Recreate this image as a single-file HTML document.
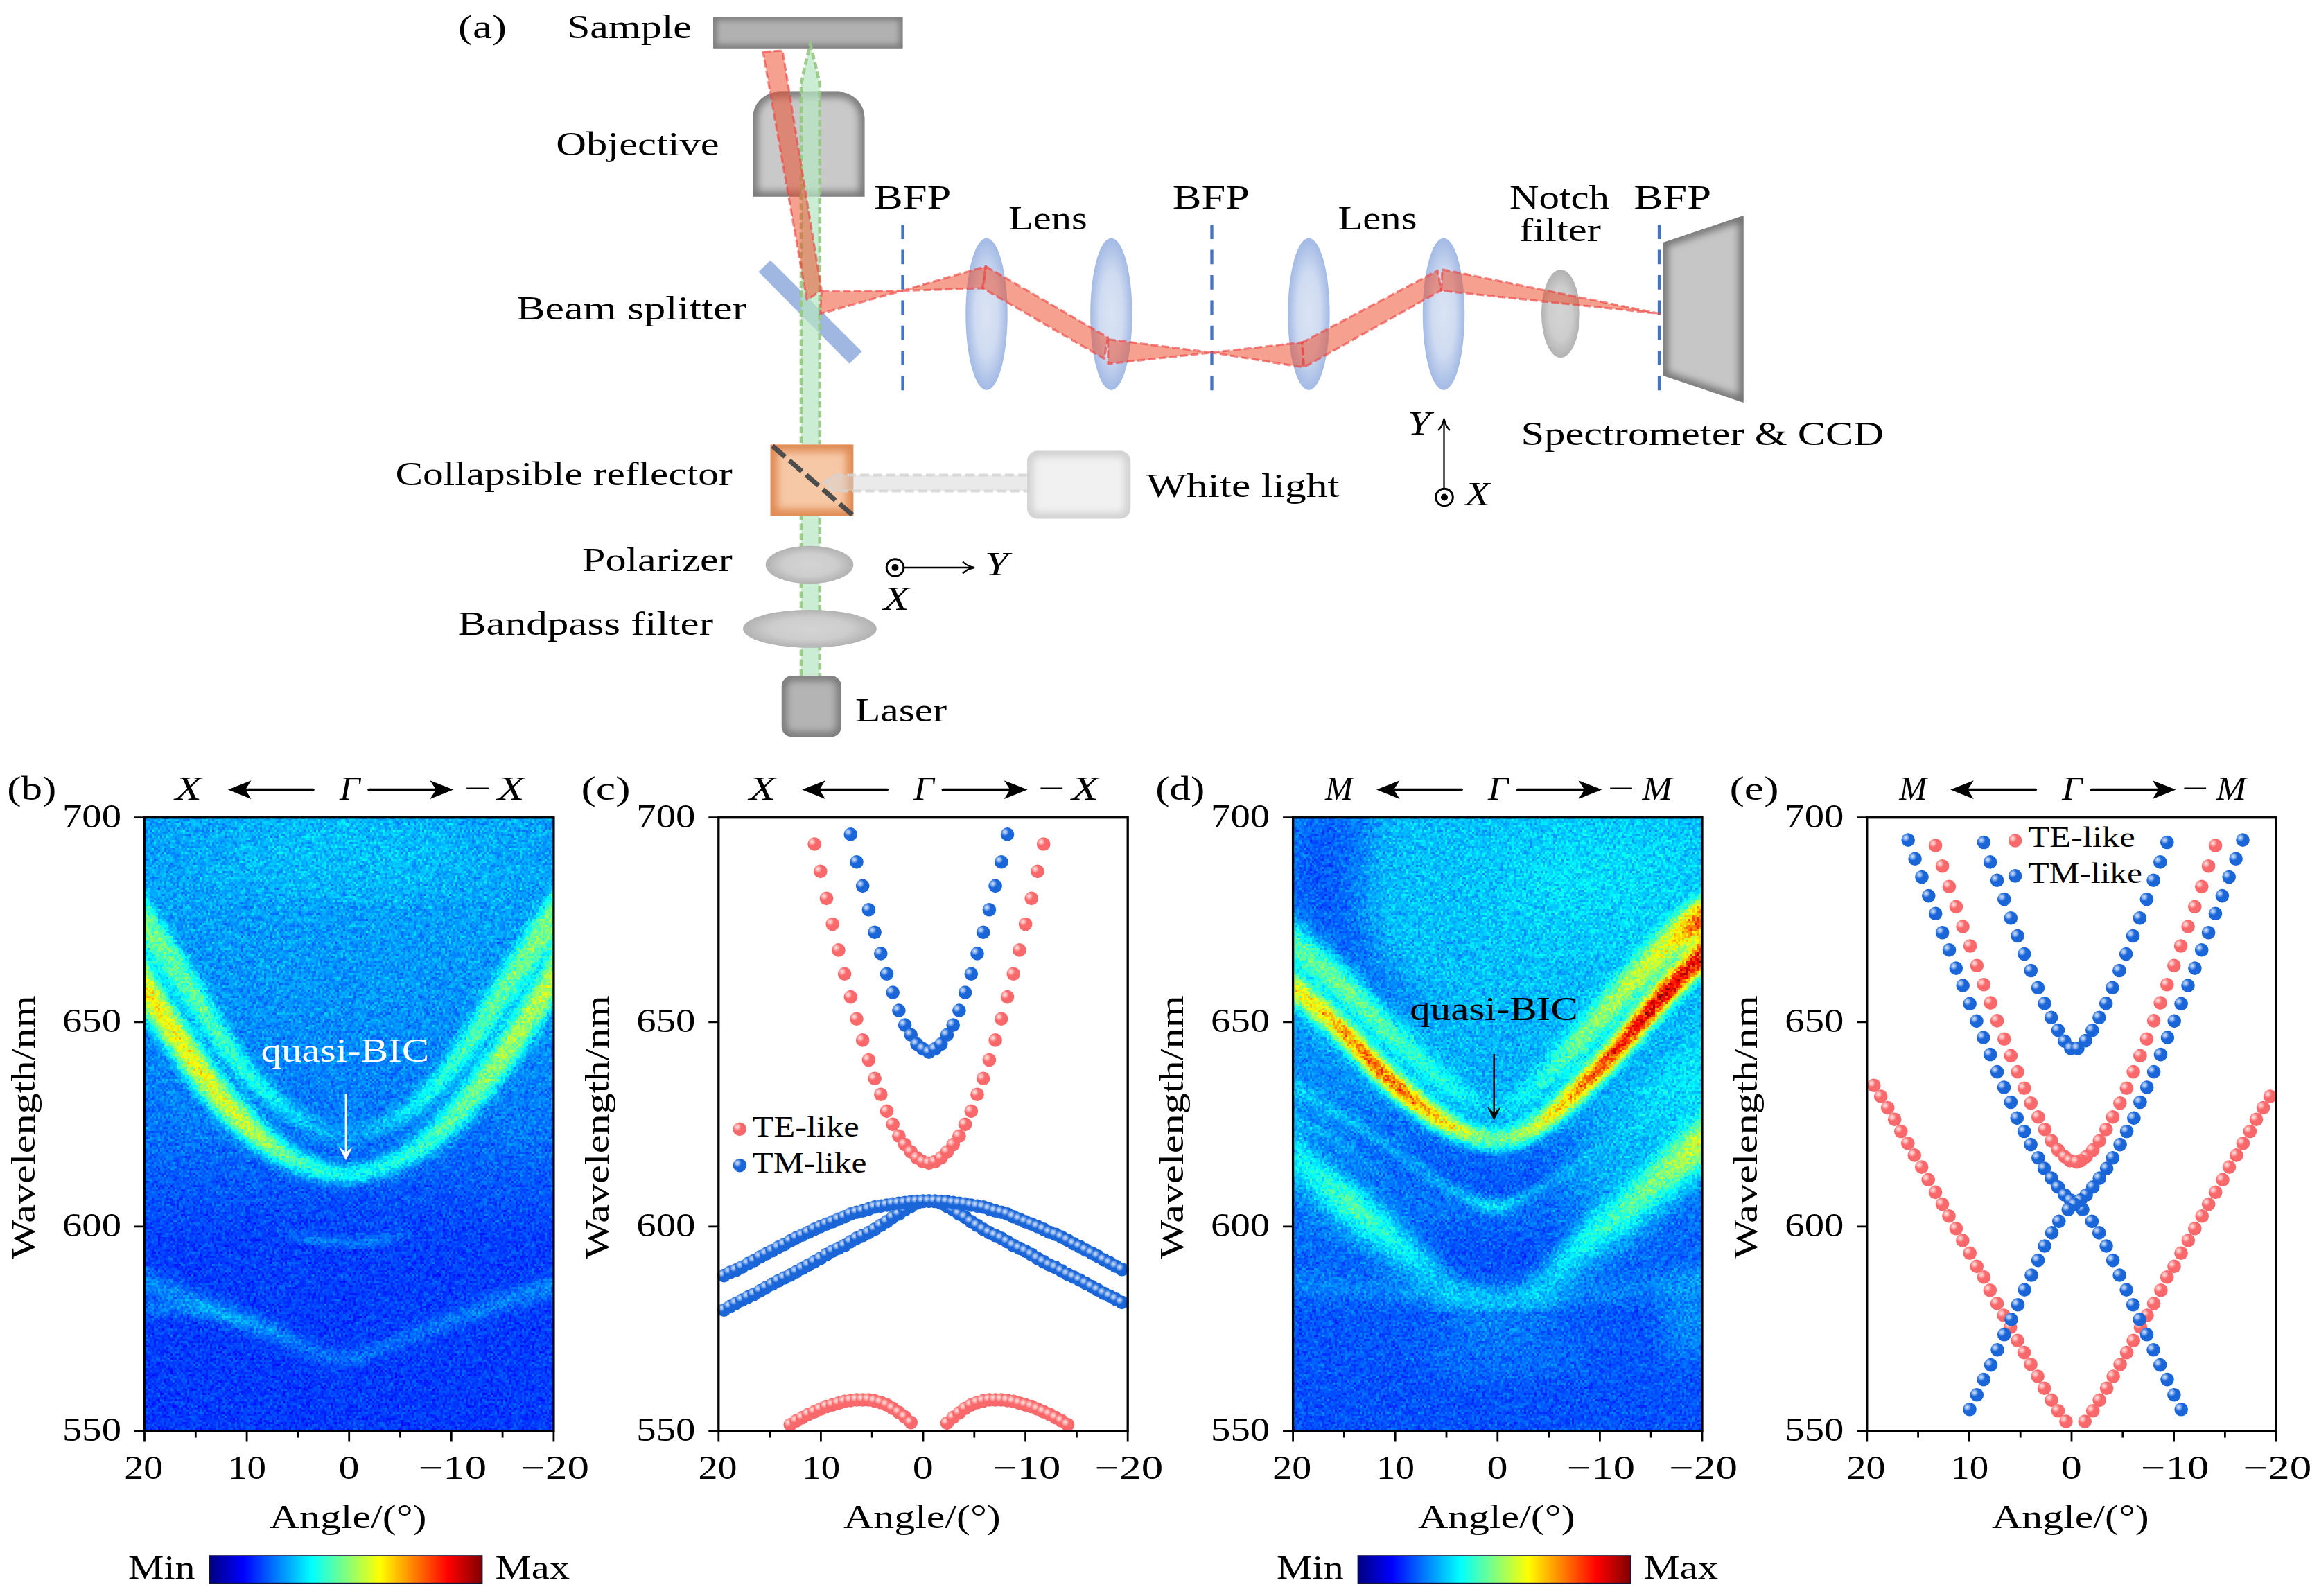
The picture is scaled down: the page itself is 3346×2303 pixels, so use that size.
<!DOCTYPE html>
<html lang="en"><head><meta charset="utf-8"><title>Figure</title>
<style>html,body{margin:0;padding:0;background:#fff}svg{display:block}text{font-family:"Liberation Serif",serif}</style></head><body>
<svg width="3346" height="2303" viewBox="0 0 3346 2303">
<rect width="3346" height="2303" fill="#fff"/>
<defs>
<filter id="bl4" x="-20%" y="-20%" width="140%" height="140%"><feGaussianBlur stdDeviation="4"/></filter>
<filter id="bl3" x="-20%" y="-20%" width="140%" height="140%"><feGaussianBlur stdDeviation="3"/></filter>
<filter id="bl6" x="-20%" y="-20%" width="140%" height="140%"><feGaussianBlur stdDeviation="6"/></filter>
<radialGradient id="lensg" cx="0.5" cy="0.5" r="0.5"><stop offset="0" stop-color="#dbe4f4"/><stop offset="0.55" stop-color="#cfdbf1"/><stop offset="1" stop-color="#a3bae5"/></radialGradient>
<radialGradient id="greyg" cx="0.5" cy="0.5" r="0.5"><stop offset="0" stop-color="#d4d4d4"/><stop offset="0.6" stop-color="#cdcdcd"/><stop offset="1" stop-color="#b2b2b2"/></radialGradient>
<clipPath id="cSample"><rect x="1029" y="24" width="273.5" height="45.7"/></clipPath>
<clipPath id="cObj"><path d="M1086 283.7V171a38 38 0 0 1 38-38.5h85.500a38 38 0 0 1 38 38.500V283.700Z"/></clipPath>
<clipPath id="cSpec"><path d="M2399.500 350L2515.700 311V581L2399.500 542Z"/></clipPath>
<clipPath id="cOr"><rect x="1111.600" y="641.400" width="119.700" height="103.300"/></clipPath>
<clipPath id="cWl"><rect x="1482" y="650.400" width="149.200" height="98" rx="15"/></clipPath>
<clipPath id="cLas"><rect x="1127.800" y="975.300" width="86.200" height="88" rx="15"/></clipPath>
</defs>
<rect x="1029" y="24" width="273.5" height="45.7" fill="#b1b1b1"/>
<g clip-path="url(#cSample)"><rect x="1029" y="24" width="273.5" height="45.7" fill="none" stroke="#787878" stroke-width="10" filter="url(#bl4)"/></g>
<path d="M1086 283.7V171a38 38 0 0 1 38-38.5h85.5a38 38 0 0 1 38 38.5V283.7Z" fill="#c9c9c9"/>
<g clip-path="url(#cObj)"><path d="M1086 283.7V171a38 38 0 0 1 38-38.5h85.5a38 38 0 0 1 38 38.5V283.7Z" fill="none" stroke="#727272" stroke-width="14" filter="url(#bl6)"/></g>
<path d="M1111.6 375.6L1094.4 392.3L1225.6 524.7L1243.5 507.2Z" fill="#8faadc" fill-opacity="0.85"/>
<path d="M1156 975V121.500Q1161.500 93 1169.100 64.500Q1176.700 93 1182.800 121.500V975" fill="#b5e6c3" fill-opacity="0.72" stroke="none"/>
<path d="M1156 975V121.500Q1161.500 93 1169.100 64.500Q1176.700 93 1182.800 121.500V975" fill="none" stroke="#97c784" stroke-opacity="0.92" stroke-width="4.6" stroke-dasharray="9.5 4.5"/>
<rect x="1111.6" y="641.4" width="119.7" height="103.3" fill="#f7c8a6"/>
<g clip-path="url(#cOr)"><rect x="1111.6" y="641.4" width="119.7" height="103.3" fill="none" stroke="#e08a52" stroke-width="20" filter="url(#bl6)"/></g>
<rect x="1482" y="650.4" width="149.2" height="98" rx="15" fill="#f1f1f1"/>
<g clip-path="url(#cWl)"><rect x="1482" y="650.4" width="149.2" height="98" rx="15" fill="none" stroke="#cfcfcf" stroke-width="16" filter="url(#bl6)"/></g>
<path d="M1482 685.5H1203L1189 697L1203 708.5H1482" fill="#d6d6d6" fill-opacity="0.5"/>
<path d="M1482 685.5H1203L1189 697L1203 708.5H1482" fill="none" stroke="#d4d4d4" stroke-opacity="0.85" stroke-width="3.8" stroke-dasharray="13 6"/>
<path d="M1114.500 643.500L1230 743" stroke="#4d4d4d" stroke-width="7" stroke-dasharray="24 8" fill="none"/>
<ellipse cx="1168" cy="815" rx="63.3" ry="27.2" fill="url(#greyg)"/>
<ellipse cx="1168.4" cy="907.3" rx="96.4" ry="27.4" fill="url(#greyg)"/>
<rect x="1127.8" y="975.3" width="86.2" height="88" rx="15" fill="#b4b4b4"/>
<g clip-path="url(#cLas)"><rect x="1127.8" y="975.3" width="86.2" height="88" rx="15" fill="none" stroke="#727272" stroke-width="13" filter="url(#bl6)"/></g>
<ellipse cx="1423.5" cy="453.3" rx="30.2" ry="109.6" fill="url(#lensg)"/>
<ellipse cx="1603.4" cy="453.3" rx="30.2" ry="109.6" fill="url(#lensg)"/>
<ellipse cx="1888.4" cy="453.3" rx="30.2" ry="109.6" fill="url(#lensg)"/>
<ellipse cx="2083" cy="453.3" rx="30.2" ry="109.6" fill="url(#lensg)"/>
<ellipse cx="2251.8" cy="452.6" rx="27.8" ry="63.6" fill="url(#greyg)"/>
<path d="M1302.5 324.200V563.400" stroke="#4472c4" stroke-width="4.300" stroke-dasharray="20.700 15.700" fill="none"/>
<path d="M1748.5 324.200V563.400" stroke="#4472c4" stroke-width="4.300" stroke-dasharray="20.700 15.700" fill="none"/>
<path d="M2394 324.200V563.400" stroke="#4472c4" stroke-width="4.300" stroke-dasharray="20.700 15.700" fill="none"/>
<path d="M2399.5 350L2515.7 311V581L2399.5 542Z" fill="#c6c6c6"/>
<g clip-path="url(#cSpec)"><path d="M2399.5 350L2515.7 311V581L2399.5 542Z" fill="none" stroke="#6c6c6c" stroke-width="13" filter="url(#bl6)"/></g>
<path d="M1101 75L1129 73L1185.3 419L1164.2 432.6Z" fill="#ee4a28" fill-opacity="0.52" stroke="#ee4040" stroke-opacity="0.62" stroke-width="3.200" stroke-dasharray="11 4.500" stroke-linejoin="round"/>
<path d="M1185.3 420.4L1301.500 419.500L1183.500 452.800Z" fill="#ee4a28" fill-opacity="0.52" stroke="#ee4040" stroke-opacity="0.62" stroke-width="3.200" stroke-dasharray="11 4.500" stroke-linejoin="round"/>
<path d="M1301.5 419.5L1422 384.400L1418.600 416Z" fill="#ee4a28" fill-opacity="0.52" stroke="#ee4040" stroke-opacity="0.62" stroke-width="3.200" stroke-dasharray="11 4.500" stroke-linejoin="round"/>
<path d="M1422.600 384.500L1598.500 487L1593.200 517.400L1417.400 415.600Z" fill="#ee4a28" fill-opacity="0.52" stroke="#ee4040" stroke-opacity="0.62" stroke-width="3.200" stroke-dasharray="11 4.500" stroke-linejoin="round"/>
<path d="M1598.800 489.600L1748.500 508.700L1598.800 524.900Z" fill="#ee4a28" fill-opacity="0.52" stroke="#ee4040" stroke-opacity="0.62" stroke-width="3.200" stroke-dasharray="11 4.500" stroke-linejoin="round"/>
<path d="M1748.500 508.700L1879.100 493.900L1880.800 530Z" fill="#ee4a28" fill-opacity="0.52" stroke="#ee4040" stroke-opacity="0.62" stroke-width="3.200" stroke-dasharray="11 4.500" stroke-linejoin="round"/>
<path d="M1878.400 494.500L2074.300 390.400L2079.500 419L1881.500 529.800Z" fill="#ee4a28" fill-opacity="0.52" stroke="#ee4040" stroke-opacity="0.62" stroke-width="3.200" stroke-dasharray="11 4.500" stroke-linejoin="round"/>
<path d="M2081 388.700L2394 452.500L2079.500 419.500Z" fill="#ee4a28" fill-opacity="0.52" stroke="#ee4040" stroke-opacity="0.62" stroke-width="3.200" stroke-dasharray="11 4.500" stroke-linejoin="round"/>
<path d="M2083.500 704V606" stroke="#000" stroke-width="2.300" fill="none"/>
<path d="M2075 621C2080 616 2082.500 610 2083.500 604C2084.500 610 2087 616 2092 621" stroke="#000" stroke-width="2.300" fill="none"/>
<circle cx="2084" cy="717.500" r="12.300" fill="none" stroke="#000" stroke-width="3"/><circle cx="2084" cy="717.500" r="5"/>
<circle cx="1291.500" cy="819" r="12.300" fill="none" stroke="#000" stroke-width="3"/><circle cx="1291.500" cy="819" r="5"/>
<path d="M1305 819H1404" stroke="#000" stroke-width="2.300" fill="none"/>
<path d="M1389 810.500C1394 815.500 1400 818 1406 819C1400 820 1394 822.500 1389 827.500" stroke="#000" stroke-width="2.300" fill="none"/>
<text x="661" y="55" font-size="49" textLength="70" lengthAdjust="spacingAndGlyphs">(a)</text>
<text x="818" y="55" font-size="49" textLength="180" lengthAdjust="spacingAndGlyphs">Sample</text>
<text x="802.3" y="223.5" font-size="49" textLength="235.4" lengthAdjust="spacingAndGlyphs">Objective</text>
<text x="745.3" y="460.5" font-size="49" textLength="332" lengthAdjust="spacingAndGlyphs">Beam splitter</text>
<text x="1261" y="300.7" font-size="49" textLength="111.3" lengthAdjust="spacingAndGlyphs">BFP</text>
<text x="1455" y="331" font-size="49" textLength="113.8" lengthAdjust="spacingAndGlyphs">Lens</text>
<text x="1691.7" y="300.7" font-size="49" textLength="111.3" lengthAdjust="spacingAndGlyphs">BFP</text>
<text x="1930.5" y="331" font-size="49" textLength="114" lengthAdjust="spacingAndGlyphs">Lens</text>
<text x="2178" y="300.7" font-size="49" textLength="144" lengthAdjust="spacingAndGlyphs">Notch</text>
<text x="2192" y="348" font-size="49" textLength="118" lengthAdjust="spacingAndGlyphs">filter</text>
<text x="2357.6" y="300.7" font-size="49" textLength="111.4" lengthAdjust="spacingAndGlyphs">BFP</text>
<text x="2194.6" y="641.5" font-size="49" textLength="523.4" lengthAdjust="spacingAndGlyphs">Spectrometer &amp; CCD</text>
<text x="1654" y="717.3" font-size="49" textLength="278.6" lengthAdjust="spacingAndGlyphs">White light</text>
<text x="570.5" y="700" font-size="49" textLength="486.2" lengthAdjust="spacingAndGlyphs">Collapsible reflector</text>
<text x="840" y="823.5" font-size="49" textLength="216.7" lengthAdjust="spacingAndGlyphs">Polarizer</text>
<text x="660.8" y="915.6" font-size="49" textLength="368.2" lengthAdjust="spacingAndGlyphs">Bandpass filter</text>
<text x="1234" y="1041" font-size="49" textLength="132" lengthAdjust="spacingAndGlyphs">Laser</text>
<text x="2031" y="627" font-size="49" textLength="33" lengthAdjust="spacingAndGlyphs" font-style="italic">Y</text>
<text x="2114" y="728.5" font-size="49" textLength="36" lengthAdjust="spacingAndGlyphs" font-style="italic">X</text>
<text x="1421" y="830.4" font-size="49" textLength="34" lengthAdjust="spacingAndGlyphs" font-style="italic">Y</text>
<text x="1274.5" y="880" font-size="49" textLength="37.4" lengthAdjust="spacingAndGlyphs" font-style="italic">X</text>
<defs>
<linearGradient id="jetbar" x1="0" x2="1" y1="0" y2="0">
<stop offset="0" stop-color="#000080"/><stop offset="0.125" stop-color="#0000ff"/><stop offset="0.25" stop-color="#0080ff"/>
<stop offset="0.375" stop-color="#00ffff"/><stop offset="0.5" stop-color="#80ff80"/><stop offset="0.625" stop-color="#ffff00"/>
<stop offset="0.75" stop-color="#ff8000"/><stop offset="0.875" stop-color="#ff0000"/><stop offset="1" stop-color="#800000"/>
</linearGradient>
<radialGradient id="sr" cx="0.32" cy="0.33" r="0.30"><stop offset="0" stop-color="#fde4e4"/><stop offset="0.45" stop-color="#fcb4b4"/><stop offset="1" stop-color="#f9686a"/></radialGradient>
<radialGradient id="sb" cx="0.32" cy="0.33" r="0.30"><stop offset="0" stop-color="#d6e4fa"/><stop offset="0.45" stop-color="#8fb5ee"/><stop offset="1" stop-color="#1a66d8"/></radialGradient>
<circle id="R" r="9.800" fill="url(#sr)"/>
<circle id="B" r="9.800" fill="url(#sb)"/>
</defs>
<defs>
<filter id="jet" filterUnits="userSpaceOnUse" x="0" y="1170" width="3346" height="903" color-interpolation-filters="sRGB">
<feTurbulence type="fractalNoise" baseFrequency="0.55" numOctaves="1" seed="11" result="t"/>
<feColorMatrix in="t" type="matrix" values="1 0 0 0 0  1 0 0 0 0  1 0 0 0 0  0 0 0 0 1" result="n"/>
<feComposite in="SourceGraphic" in2="n" operator="arithmetic" k1="0.5" k2="0.75" k3="0.11" k4="-0.055" result="s"/>
<feFlood x="1" y="1171" width="1" height="1" flood-color="#000" result="dot"/>
<feOffset in="dot" dx="0" dy="0" x="0" y="1170" width="3" height="3" result="cell"/>
<feTile in="cell" result="grid"/>
<feComposite in="s" in2="grid" operator="in" result="samp"/>
<feMorphology in="samp" operator="dilate" radius="1" result="pix"/>
<feComponentTransfer in="pix">
<feFuncR type="table" tableValues="0 0 0 0 0.5 1 1 1 0.5"/>
<feFuncG type="table" tableValues="0 0 0.5 1 1 1 0.5 0 0"/>
<feFuncB type="table" tableValues="0.5 1 1 1 0.5 0 0 0 0"/>
<feFuncA type="linear" slope="0" intercept="1"/>
</feComponentTransfer>
</filter>
<filter id="hb5" x="-10%" y="-10%" width="120%" height="120%" color-interpolation-filters="sRGB"><feGaussianBlur stdDeviation="5"/></filter>
<filter id="hb6" x="-10%" y="-10%" width="120%" height="120%" color-interpolation-filters="sRGB"><feGaussianBlur stdDeviation="6"/></filter>
<filter id="hb7" x="-10%" y="-10%" width="120%" height="120%" color-interpolation-filters="sRGB"><feGaussianBlur stdDeviation="7"/></filter>
<filter id="hb9" x="-10%" y="-10%" width="120%" height="120%" color-interpolation-filters="sRGB"><feGaussianBlur stdDeviation="9"/></filter>
<filter id="hb8" x="-10%" y="-10%" width="120%" height="120%" color-interpolation-filters="sRGB"><feGaussianBlur stdDeviation="8"/></filter>
<filter id="hb10" x="-10%" y="-10%" width="120%" height="120%" color-interpolation-filters="sRGB"><feGaussianBlur stdDeviation="10"/></filter>
<filter id="hb12" x="-10%" y="-10%" width="120%" height="120%" color-interpolation-filters="sRGB"><feGaussianBlur stdDeviation="12"/></filter>
<filter id="hb16" x="-15%" y="-15%" width="130%" height="130%" color-interpolation-filters="sRGB"><feGaussianBlur stdDeviation="16"/></filter>
<filter id="hb25" x="-20%" y="-20%" width="140%" height="140%" color-interpolation-filters="sRGB"><feGaussianBlur stdDeviation="25"/></filter>
<filter id="hb50" x="-30%" y="-30%" width="160%" height="160%" color-interpolation-filters="sRGB"><feGaussianBlur stdDeviation="50"/></filter>
</defs>
<defs><linearGradient id="hg1" x1="0" x2="0" y1="0" y2="1"><stop offset="0.000" stop-color="#494949"/><stop offset="0.100" stop-color="#494949"/><stop offset="0.300" stop-color="#454545"/><stop offset="0.500" stop-color="#3e3e3e"/><stop offset="0.600" stop-color="#363636"/><stop offset="0.680" stop-color="#303030"/><stop offset="1.000" stop-color="#2e2e2e"/></linearGradient><linearGradient id="hg2" gradientUnits="userSpaceOnUse" x1="163.5" x2="843.5" y1="0" y2="0"><stop offset="0.066" stop-color="#fff" stop-opacity="0.078"/><stop offset="0.199" stop-color="#fff" stop-opacity="0.075"/><stop offset="0.324" stop-color="#fff" stop-opacity="0.069"/><stop offset="0.412" stop-color="#fff" stop-opacity="0.071"/><stop offset="0.500" stop-color="#fff" stop-opacity="0.073"/><stop offset="0.581" stop-color="#fff" stop-opacity="0.065"/><stop offset="0.713" stop-color="#fff" stop-opacity="0.062"/><stop offset="0.838" stop-color="#fff" stop-opacity="0.068"/><stop offset="0.934" stop-color="#fff" stop-opacity="0.072"/></linearGradient><linearGradient id="hg3" gradientUnits="userSpaceOnUse" x1="163.5" x2="413.5" y1="0" y2="0"><stop offset="0.180" stop-color="#fff" stop-opacity="0.068"/><stop offset="0.660" stop-color="#fff" stop-opacity="0.067"/><stop offset="1.000" stop-color="#fff" stop-opacity="0.033"/></linearGradient><linearGradient id="hg4" gradientUnits="userSpaceOnUse" x1="400.5" x2="600.5" y1="0" y2="0"><stop offset="0.000" stop-color="#fff" stop-opacity="0.015"/><stop offset="0.240" stop-color="#fff" stop-opacity="0.072"/><stop offset="0.515" stop-color="#fff" stop-opacity="0.065"/><stop offset="0.765" stop-color="#fff" stop-opacity="0.072"/><stop offset="1.000" stop-color="#fff" stop-opacity="0.015"/></linearGradient><linearGradient id="hg5" gradientUnits="userSpaceOnUse" x1="165.6" x2="842.5" y1="0" y2="0"><stop offset="0.066" stop-color="#fff" stop-opacity="0.215"/><stop offset="0.121" stop-color="#fff" stop-opacity="0.199"/><stop offset="0.179" stop-color="#fff" stop-opacity="0.205"/><stop offset="0.238" stop-color="#fff" stop-opacity="0.188"/><stop offset="0.296" stop-color="#fff" stop-opacity="0.171"/><stop offset="0.354" stop-color="#fff" stop-opacity="0.143"/><stop offset="0.393" stop-color="#fff" stop-opacity="0.115"/><stop offset="0.432" stop-color="#fff" stop-opacity="0.077"/><stop offset="0.492" stop-color="#fff" stop-opacity="0.041"/><stop offset="0.553" stop-color="#fff" stop-opacity="0.076"/><stop offset="0.588" stop-color="#fff" stop-opacity="0.111"/><stop offset="0.626" stop-color="#fff" stop-opacity="0.141"/><stop offset="0.685" stop-color="#fff" stop-opacity="0.172"/><stop offset="0.743" stop-color="#fff" stop-opacity="0.187"/><stop offset="0.801" stop-color="#fff" stop-opacity="0.203"/><stop offset="0.860" stop-color="#fff" stop-opacity="0.216"/><stop offset="0.934" stop-color="#fff" stop-opacity="0.233"/></linearGradient><linearGradient id="hg6" gradientUnits="userSpaceOnUse" x1="165.6" x2="842.5" y1="0" y2="0"><stop offset="0.066" stop-color="#fff" stop-opacity="0.376"/><stop offset="0.121" stop-color="#fff" stop-opacity="0.362"/><stop offset="0.179" stop-color="#fff" stop-opacity="0.361"/><stop offset="0.238" stop-color="#fff" stop-opacity="0.345"/><stop offset="0.296" stop-color="#fff" stop-opacity="0.340"/><stop offset="0.354" stop-color="#fff" stop-opacity="0.299"/><stop offset="0.412" stop-color="#fff" stop-opacity="0.272"/><stop offset="0.451" stop-color="#fff" stop-opacity="0.269"/><stop offset="0.492" stop-color="#fff" stop-opacity="0.253"/><stop offset="0.549" stop-color="#fff" stop-opacity="0.245"/><stop offset="0.607" stop-color="#fff" stop-opacity="0.219"/><stop offset="0.665" stop-color="#fff" stop-opacity="0.213"/><stop offset="0.724" stop-color="#fff" stop-opacity="0.230"/><stop offset="0.782" stop-color="#fff" stop-opacity="0.260"/><stop offset="0.840" stop-color="#fff" stop-opacity="0.285"/><stop offset="0.879" stop-color="#fff" stop-opacity="0.295"/><stop offset="0.934" stop-color="#fff" stop-opacity="0.304"/></linearGradient><clipPath id="hcb"><rect x="208.5" y="1179.7" width="590.4" height="885.3"/></clipPath></defs>
<g clip-path="url(#hcb)"><g filter="url(#jet)">
<rect x="188.5" y="1174.7" width="630.4" height="895.3" fill="url(#hg1)"/>
<ellipse cx="508.5" cy="1229.7" rx="200" ry="45" fill="#fff" fill-opacity="0.045" filter="url(#hb50)" style="mix-blend-mode:plus-lighter"/>
<path d="M163.5 1816.3L174.3 1820.6L185.1 1824.8L195.9 1829L206.7 1833.3L217.5 1837.6L228.3 1841.9L239.1 1846.3L249.8 1850.7L260.6 1855.1L271.4 1859.6L282.2 1864.1L293 1868.7L303.8 1873.3L314.6 1878L325.4 1882.8L336.2 1887.6L347 1892.5L357.8 1897.3L368.6 1902.2L379.4 1907.1L390.2 1912L401 1916.9L411.8 1921.9L422.5 1926.7L433.3 1931.6L444.1 1936.3L454.9 1940.9L465.7 1945.1L476.5 1948.6L487.3 1951L498.1 1952.1L508.9 1951.5L519.7 1949.1L530.5 1945.5L541.3 1941L552.1 1936L562.9 1931L573.7 1926.1L584.5 1921.4L595.2 1916.7L606 1912.2L616.8 1907.7L627.6 1903.3L638.4 1899L649.2 1894.7L660 1890.5L670.8 1886.2L681.6 1882.1L692.4 1877.9L703.2 1873.9L714 1869.9L724.8 1866L735.6 1862.3L746.4 1858.6L757.2 1855.1L767.9 1851.6L778.7 1848.2L789.5 1844.8L800.3 1841.5L811.1 1838.2L821.9 1835L832.7 1831.8L843.5 1828.6L843.5 1856.6L832.7 1859.8L821.9 1863L811.1 1866.2L800.3 1869.5L789.5 1872.6L778.7 1875.7L767.9 1878.8L757.2 1881.9L746.4 1885.1L735.6 1888.4L724.8 1891.7L714 1895.1L703.2 1898.6L692.4 1902.1L681.6 1905.7L670.8 1909.3L660 1913L649.2 1916.8L638.4 1920.5L627.6 1924.4L616.8 1928.3L606 1932.2L595.2 1936.3L584.5 1940.4L573.7 1944.7L562.9 1949.2L552.1 1953.7L541.3 1958.2L530.5 1962.2L519.7 1965.4L508.9 1967.5L498.1 1968.1L487.3 1967.2L476.5 1965.1L465.7 1962L454.9 1958.3L444.1 1954.2L433.3 1950.1L422.5 1946L411.8 1941.9L401 1937.8L390.2 1933.6L379.4 1929.4L368.6 1925.1L357.8 1920.8L347 1916.4L336.2 1912.1L325.4 1907.8L314.6 1903.4L303.8 1899.1L293 1894.8L282.2 1890.6L271.4 1886.3L260.6 1882.2L249.8 1878L239.1 1873.8L228.3 1869.6L217.5 1865.5L206.7 1861.3L195.9 1857L185.1 1852.8L174.3 1848.6L163.5 1844.3Z" fill="url(#hg2)" filter="url(#hb8)" style="mix-blend-mode:plus-lighter"/>
<path d="M163.5 1874.6L167.5 1874.8L171.4 1875L175.4 1875.2L179.4 1875.4L183.3 1875.7L187.3 1875.9L191.3 1876.1L195.2 1876.3L199.2 1876.5L203.2 1876.7L207.2 1876.9L211.1 1877.2L215.1 1877.4L219.1 1877.6L223 1877.9L227 1878.1L231 1878.4L234.9 1878.7L238.9 1878.9L242.9 1879.2L246.8 1879.5L250.8 1879.8L254.8 1880.1L258.7 1880.5L262.7 1880.8L266.7 1881.2L270.6 1881.6L274.6 1882L278.6 1882.4L282.5 1882.8L286.5 1883.3L290.5 1883.8L294.5 1884.3L298.4 1884.9L302.4 1885.4L306.4 1886L310.3 1886.7L314.3 1887.3L318.3 1888L322.2 1888.8L326.2 1889.5L330.2 1890.3L334.1 1891.2L338.1 1892.1L342.1 1893L346 1893.9L350 1894.9L354 1895.9L357.9 1896.9L361.9 1897.9L365.9 1899L369.8 1900.1L373.8 1901.2L377.8 1902.3L381.8 1903.5L385.7 1904.6L389.7 1905.8L393.7 1907L397.6 1908.2L401.6 1909.4L405.6 1910.6L409.5 1911.8L413.5 1913L413.5 1927L409.5 1925.9L405.6 1924.8L401.6 1923.7L397.6 1922.6L393.7 1921.5L389.7 1920.4L385.7 1919.3L381.8 1918.3L377.8 1917.2L373.8 1916.2L369.8 1915.2L365.9 1914.2L361.9 1913.2L357.9 1912.3L354 1911.3L350 1910.4L346 1909.5L342.1 1908.7L338.1 1907.9L334.1 1907.1L330.2 1906.3L326.2 1905.6L322.2 1904.9L318.3 1904.2L314.3 1903.6L310.3 1903L306.4 1902.5L302.4 1901.9L298.4 1901.4L294.5 1901L290.5 1900.5L286.5 1900.1L282.5 1899.7L278.6 1899.3L274.6 1899L270.6 1898.6L266.7 1898.3L262.7 1898L258.7 1897.7L254.8 1897.5L250.8 1897.2L246.8 1897L242.9 1896.7L238.9 1896.5L234.9 1896.3L231 1896.1L227 1895.9L223 1895.7L219.1 1895.5L215.1 1895.3L211.1 1895.1L207.2 1894.9L203.2 1894.7L199.2 1894.5L195.2 1894.3L191.3 1894.1L187.3 1893.9L183.3 1893.7L179.4 1893.4L175.4 1893.2L171.4 1893L167.5 1892.8L163.5 1892.6Z" fill="url(#hg3)" filter="url(#hb8)" style="mix-blend-mode:plus-lighter"/>
<path d="M400.5 1772L403.7 1772.7L406.8 1773.4L410 1774.1L413.2 1774.8L416.4 1775.5L419.5 1776.2L422.7 1776.9L425.9 1777.6L429.1 1778.2L432.2 1778.9L435.4 1779.5L438.6 1780.2L441.8 1780.8L444.9 1781.4L448.1 1781.9L451.3 1782.5L454.5 1783L457.6 1783.5L460.8 1783.9L464 1784.4L467.2 1784.7L470.3 1785.1L473.5 1785.4L476.7 1785.7L479.9 1786L483 1786.2L486.2 1786.4L489.4 1786.6L492.6 1786.7L495.7 1786.9L498.9 1786.9L502.1 1787L505.3 1787L508.4 1787L511.6 1787L514.8 1786.9L518 1786.8L521.1 1786.6L524.3 1786.5L527.5 1786.3L530.7 1786L533.8 1785.7L537 1785.4L540.2 1785L543.4 1784.6L546.5 1784.2L549.7 1783.7L552.9 1783.1L556.1 1782.5L559.2 1781.9L562.4 1781.3L565.6 1780.6L568.8 1779.9L571.9 1779.2L575.1 1778.4L578.3 1777.7L581.5 1776.9L584.6 1776.1L587.8 1775.3L591 1774.5L594.2 1773.6L597.3 1772.8L600.5 1772L600.5 1782L597.3 1783L594.2 1784L591 1785.1L587.8 1786.1L584.6 1787.1L581.5 1788L578.3 1789L575.1 1789.9L571.9 1790.8L568.8 1791.6L565.6 1792.4L562.4 1793.2L559.2 1793.9L556.1 1794.5L552.9 1795.1L549.7 1795.7L546.5 1796.2L543.4 1796.6L540.2 1797L537 1797.4L533.8 1797.7L530.7 1798L527.5 1798.3L524.3 1798.5L521.1 1798.6L518 1798.8L514.8 1798.9L511.6 1799L508.4 1799L505.3 1799L502.1 1799L498.9 1798.9L495.7 1798.9L492.6 1798.7L489.4 1798.6L486.2 1798.4L483 1798.2L479.9 1798L476.7 1797.7L473.5 1797.4L470.3 1797.1L467.2 1796.7L464 1796.4L460.8 1795.9L457.6 1795.5L454.5 1795L451.3 1794.5L448.1 1793.9L444.9 1793.3L441.8 1792.7L438.6 1792L435.4 1791.3L432.2 1790.6L429.1 1789.8L425.9 1789L422.7 1788.2L419.5 1787.3L416.4 1786.5L413.2 1785.6L410 1784.7L406.8 1783.8L403.7 1782.9L400.5 1782Z" fill="url(#hg4)" filter="url(#hb5)" style="mix-blend-mode:plus-lighter"/>
<path d="M165.6 1239.7L176.3 1254.8L187.1 1269.8L197.8 1284.8L208.6 1299.9L219.3 1314.9L230.1 1330.1L240.8 1345.5L251.6 1361.4L262.3 1378.2L273 1395.7L283.8 1413.7L294.5 1431.8L305.3 1450.3L316 1468.5L326.8 1486L337.5 1502.5L348.3 1518.1L359 1532.7L369.7 1546.1L380.5 1558.4L391.2 1569.6L402 1579.7L412.7 1588.8L423.5 1597L434.2 1604.3L445 1611.1L455.7 1617.2L466.4 1622.3L477.2 1626.1L487.9 1628.4L498.7 1629L509.4 1627.9L520.2 1625.3L530.9 1621.8L541.7 1617.6L552.4 1613L563.1 1608L573.9 1601.9L584.6 1594.5L595.4 1585.7L606.1 1575.5L616.9 1563.8L627.6 1551L638.4 1537.1L649.1 1522.2L659.8 1506.5L670.6 1490.1L681.3 1473L692.1 1455.5L702.8 1437.8L713.6 1420.3L724.3 1402.7L735.1 1385.3L745.8 1368.5L756.5 1352.3L767.3 1336.4L778 1320.6L788.8 1304.9L799.5 1289.3L810.3 1273.6L821 1258L831.8 1242.4L842.5 1226.7L842.5 1289.7L831.8 1305.4L821 1321L810.3 1336.6L799.5 1352.3L788.8 1367.9L778 1383.6L767.3 1399.4L756.5 1415.3L745.8 1431.5L735.1 1447.4L724.3 1463.1L713.6 1478.5L702.8 1493.7L692.1 1508.2L681.3 1522.2L670.6 1535.7L659.8 1548.8L649.1 1561.1L638.4 1572.8L627.6 1583.7L616.9 1593.7L606.1 1602.7L595.4 1610.7L584.6 1617.7L573.9 1623.6L563.1 1629L552.4 1634L541.7 1638.6L530.9 1642.8L520.2 1646.3L509.4 1648.9L498.7 1650L487.9 1649.4L477.2 1647.1L466.4 1643.3L455.7 1638.2L445 1632.1L434.2 1625.3L423.5 1618.4L412.7 1611.6L402 1604.3L391.2 1596.3L380.5 1587.6L369.7 1578L359 1567.6L348.3 1556.3L337.5 1544.1L326.8 1530.9L316 1516.8L305.3 1502.2L294.5 1487L283.8 1471.3L273 1455.6L262.3 1440L251.6 1424.3L240.8 1408.5L230.1 1393.1L219.3 1377.9L208.6 1362.9L197.8 1347.8L187.1 1332.8L176.3 1317.8L165.6 1302.7Z" fill="url(#hg5)" filter="url(#hb8)" style="mix-blend-mode:plus-lighter"/>
<path d="M165.6 1325.7L176.3 1342.1L187.1 1358.5L197.8 1374.9L208.6 1391.3L219.3 1408.1L230.1 1424.9L240.8 1441.6L251.6 1458.3L262.3 1474.8L273 1490.9L283.8 1506.8L294.5 1522.3L305.3 1537.5L316 1552.1L326.8 1566L337.5 1579L348.3 1591.4L359 1603.3L369.7 1614.6L380.5 1625.6L391.2 1635.8L402 1645.1L412.7 1653.1L423.5 1660L434.2 1666L445 1671.4L455.7 1676.4L466.4 1680.8L477.2 1684.1L487.9 1686.3L498.7 1687.1L509.4 1686.4L520.2 1684.5L530.9 1681.7L541.7 1678.3L552.4 1674L563.1 1668.8L573.9 1662.7L584.6 1655.6L595.4 1647.3L606.1 1638.2L616.9 1628.3L627.6 1617.7L638.4 1606.3L649.1 1594.2L659.8 1581.3L670.6 1567.6L681.3 1553.4L692.1 1538.9L702.8 1524.3L713.6 1509.4L724.3 1494.2L735.1 1478.6L745.8 1462.3L756.5 1445.4L767.3 1428L778 1410L788.8 1391.8L799.5 1373.5L810.3 1355.5L821 1337.5L831.8 1319.5L842.5 1301.4L842.5 1368.6L831.8 1386.7L821 1404.7L810.3 1422.7L799.5 1440.7L788.8 1458.4L778 1475.9L767.3 1493L756.5 1509.4L745.8 1525.2L735.1 1540.3L724.3 1554.6L713.6 1568.3L702.8 1581.6L692.1 1594.4L681.3 1606.9L670.6 1618.8L659.8 1629.9L649.1 1640.2L638.4 1649.3L627.6 1657.5L616.9 1665L606.1 1671.7L595.4 1677.6L584.6 1682.8L573.9 1687.3L563.1 1691L552.4 1694.1L541.7 1696.9L530.9 1699.6L520.2 1701.8L509.4 1703.4L498.7 1703.9L487.9 1703.4L477.2 1701.8L466.4 1699.5L455.7 1696.8L445 1693.7L434.2 1690.4L423.5 1686.6L412.7 1682.2L402 1676.8L391.2 1670.4L380.5 1663.3L369.7 1655.5L359 1647.3L348.3 1638.6L337.5 1629.3L326.8 1619.1L316 1607.9L305.3 1595.9L294.5 1582.8L283.8 1568.7L273 1553.7L262.3 1538.2L251.6 1522.4L240.8 1506.5L230.1 1490.6L219.3 1474.6L208.6 1458.5L197.8 1442.1L187.1 1425.7L176.3 1409.3L165.6 1392.9Z" fill="url(#hg6)" filter="url(#hb9)" style="mix-blend-mode:plus-lighter"/>
</g></g>
<defs><linearGradient id="hg7" x1="0" x2="0" y1="0" y2="1"><stop offset="0.000" stop-color="#505050"/><stop offset="0.250" stop-color="#505050"/><stop offset="0.450" stop-color="#4b4b4b"/><stop offset="0.550" stop-color="#404040"/><stop offset="0.800" stop-color="#363636"/><stop offset="1.000" stop-color="#343434"/></linearGradient><linearGradient id="hg8" gradientUnits="userSpaceOnUse" x1="1820.6" x2="2500.6" y1="0" y2="0"><stop offset="0.066" stop-color="#fff" stop-opacity="0.051"/><stop offset="0.287" stop-color="#fff" stop-opacity="0.059"/><stop offset="0.500" stop-color="#fff" stop-opacity="0.067"/><stop offset="0.713" stop-color="#fff" stop-opacity="0.059"/><stop offset="0.934" stop-color="#fff" stop-opacity="0.051"/></linearGradient><linearGradient id="hg9" gradientUnits="userSpaceOnUse" x1="1820.9" x2="2500.4" y1="0" y2="0"><stop offset="0.066" stop-color="#fff" stop-opacity="0.101"/><stop offset="0.126" stop-color="#fff" stop-opacity="0.148"/><stop offset="0.199" stop-color="#fff" stop-opacity="0.206"/><stop offset="0.273" stop-color="#fff" stop-opacity="0.151"/><stop offset="0.346" stop-color="#fff" stop-opacity="0.111"/><stop offset="0.419" stop-color="#fff" stop-opacity="0.078"/><stop offset="0.492" stop-color="#fff" stop-opacity="0.056"/><stop offset="0.541" stop-color="#fff" stop-opacity="0.063"/><stop offset="0.590" stop-color="#fff" stop-opacity="0.094"/><stop offset="0.663" stop-color="#fff" stop-opacity="0.146"/><stop offset="0.761" stop-color="#fff" stop-opacity="0.183"/><stop offset="0.859" stop-color="#fff" stop-opacity="0.234"/><stop offset="0.934" stop-color="#fff" stop-opacity="0.291"/></linearGradient><linearGradient id="hg10" gradientUnits="userSpaceOnUse" x1="1820.9" x2="2500.4" y1="0" y2="0"><stop offset="0.066" stop-color="#fff" stop-opacity="0.048"/><stop offset="0.126" stop-color="#fff" stop-opacity="0.071"/><stop offset="0.199" stop-color="#fff" stop-opacity="0.096"/><stop offset="0.273" stop-color="#fff" stop-opacity="0.069"/><stop offset="0.346" stop-color="#fff" stop-opacity="0.050"/><stop offset="0.419" stop-color="#fff" stop-opacity="0.032"/><stop offset="0.492" stop-color="#fff" stop-opacity="0.021"/><stop offset="0.541" stop-color="#fff" stop-opacity="0.024"/><stop offset="0.590" stop-color="#fff" stop-opacity="0.039"/><stop offset="0.663" stop-color="#fff" stop-opacity="0.069"/><stop offset="0.761" stop-color="#fff" stop-opacity="0.088"/><stop offset="0.859" stop-color="#fff" stop-opacity="0.116"/><stop offset="0.934" stop-color="#fff" stop-opacity="0.143"/></linearGradient><linearGradient id="hg11" gradientUnits="userSpaceOnUse" x1="1820.9" x2="2305" y1="0" y2="0"><stop offset="0.093" stop-color="#fff" stop-opacity="0.080"/><stop offset="0.254" stop-color="#fff" stop-opacity="0.074"/><stop offset="0.364" stop-color="#fff" stop-opacity="0.076"/><stop offset="0.520" stop-color="#fff" stop-opacity="0.081"/><stop offset="0.623" stop-color="#fff" stop-opacity="0.104"/><stop offset="0.691" stop-color="#fff" stop-opacity="0.162"/><stop offset="0.760" stop-color="#fff" stop-opacity="0.103"/><stop offset="0.863" stop-color="#fff" stop-opacity="0.054"/><stop offset="1.000" stop-color="#fff" stop-opacity="0.021"/></linearGradient><linearGradient id="hg12" gradientUnits="userSpaceOnUse" x1="1820.9" x2="2000" y1="0" y2="0"><stop offset="0.251" stop-color="#fff" stop-opacity="0.051"/><stop offset="0.665" stop-color="#fff" stop-opacity="0.044"/><stop offset="1.000" stop-color="#fff" stop-opacity="0.018"/></linearGradient><linearGradient id="hg13" gradientUnits="userSpaceOnUse" x1="1822.6" x2="2499.4" y1="0" y2="0"><stop offset="0.066" stop-color="#fff" stop-opacity="0.172"/><stop offset="0.121" stop-color="#fff" stop-opacity="0.183"/><stop offset="0.179" stop-color="#fff" stop-opacity="0.207"/><stop offset="0.238" stop-color="#fff" stop-opacity="0.193"/><stop offset="0.296" stop-color="#fff" stop-opacity="0.161"/><stop offset="0.354" stop-color="#fff" stop-opacity="0.133"/><stop offset="0.413" stop-color="#fff" stop-opacity="0.100"/><stop offset="0.451" stop-color="#fff" stop-opacity="0.078"/><stop offset="0.492" stop-color="#fff" stop-opacity="0.063"/><stop offset="0.549" stop-color="#fff" stop-opacity="0.090"/><stop offset="0.607" stop-color="#fff" stop-opacity="0.145"/><stop offset="0.665" stop-color="#fff" stop-opacity="0.196"/><stop offset="0.724" stop-color="#fff" stop-opacity="0.237"/><stop offset="0.782" stop-color="#fff" stop-opacity="0.262"/><stop offset="0.840" stop-color="#fff" stop-opacity="0.294"/><stop offset="0.879" stop-color="#fff" stop-opacity="0.340"/><stop offset="0.934" stop-color="#fff" stop-opacity="0.496"/></linearGradient><linearGradient id="hg14" gradientUnits="userSpaceOnUse" x1="1822.6" x2="2499.4" y1="0" y2="0"><stop offset="0.066" stop-color="#fff" stop-opacity="0.328"/><stop offset="0.121" stop-color="#fff" stop-opacity="0.359"/><stop offset="0.179" stop-color="#fff" stop-opacity="0.470"/><stop offset="0.238" stop-color="#fff" stop-opacity="0.533"/><stop offset="0.296" stop-color="#fff" stop-opacity="0.516"/><stop offset="0.354" stop-color="#fff" stop-opacity="0.450"/><stop offset="0.413" stop-color="#fff" stop-opacity="0.370"/><stop offset="0.451" stop-color="#fff" stop-opacity="0.298"/><stop offset="0.492" stop-color="#fff" stop-opacity="0.222"/><stop offset="0.549" stop-color="#fff" stop-opacity="0.285"/><stop offset="0.607" stop-color="#fff" stop-opacity="0.374"/><stop offset="0.665" stop-color="#fff" stop-opacity="0.477"/><stop offset="0.724" stop-color="#fff" stop-opacity="0.557"/><stop offset="0.782" stop-color="#fff" stop-opacity="0.622"/><stop offset="0.840" stop-color="#fff" stop-opacity="0.649"/><stop offset="0.879" stop-color="#fff" stop-opacity="0.618"/><stop offset="0.934" stop-color="#fff" stop-opacity="0.588"/></linearGradient><clipPath id="hcd"><rect x="1865.6" y="1179.7" width="590.4" height="885.3"/></clipPath></defs>
<g clip-path="url(#hcd)"><g filter="url(#jet)">
<rect x="1845.6" y="1174.7" width="630.4" height="895.3" fill="url(#hg7)"/>
<path d="M1845 1165L1985 1165L1962 1266L1966 1337L2001 1407L2054 1460L2010 1472L1946 1402L1868 1332L1845 1322Z" fill="#000" fill-opacity="0.310" filter="url(#hb25)"/>
<ellipse cx="2305.6" cy="1269.7" rx="150" ry="70" fill="#fff" fill-opacity="0.035" filter="url(#hb50)" style="mix-blend-mode:plus-lighter"/>
<path d="M1845.6 1460L1985.6 1570L2155.6 1668L2285.6 1640L2285.6 1720L2155.6 1745L1985.6 1680L1845.6 1560Z" fill="#000" fill-opacity="0.100" filter="url(#hb16)"/>
<path d="M2030 1770L2280 1770L2230 1845L2080 1845Z" fill="#000" fill-opacity="0.070" filter="url(#hb10)"/>
<ellipse cx="2170" cy="1950" rx="120" ry="35" fill="#fff" fill-opacity="0.030" filter="url(#hb25)" style="mix-blend-mode:plus-lighter"/>
<ellipse cx="2440" cy="1900" rx="40" ry="60" fill="#fff" fill-opacity="0.060" filter="url(#hb25)" style="mix-blend-mode:plus-lighter"/>
<path d="M1820.6 1838.2L1831.4 1839.1L1842.2 1840L1853 1840.9L1863.8 1841.8L1874.6 1842.8L1885.4 1843.7L1896.2 1844.6L1906.9 1845.5L1917.7 1846.5L1928.5 1847.4L1939.3 1848.4L1950.1 1849.4L1960.9 1850.4L1971.7 1851.5L1982.5 1852.5L1993.3 1853.6L2004.1 1854.8L2014.9 1855.9L2025.7 1857.1L2036.5 1858.3L2047.3 1859.6L2058.1 1860.8L2068.9 1861.9L2079.6 1863.1L2090.4 1864.1L2101.2 1865.1L2112 1865.9L2122.8 1866.7L2133.6 1867.3L2144.4 1867.7L2155.2 1867.9L2166 1868L2176.8 1867.9L2187.6 1867.5L2198.4 1867L2209.2 1866.4L2220 1865.6L2230.8 1864.7L2241.6 1863.6L2252.3 1862.5L2263.1 1861.3L2273.9 1860L2284.7 1858.7L2295.5 1857.3L2306.3 1855.9L2317.1 1854.5L2327.9 1853.1L2338.7 1851.7L2349.5 1850.3L2360.3 1848.8L2371.1 1847.4L2381.9 1845.9L2392.7 1844.5L2403.5 1843L2414.3 1841.6L2425 1840.1L2435.8 1838.7L2446.6 1837.2L2457.4 1835.8L2468.2 1834.3L2479 1832.8L2489.8 1831.4L2500.6 1829.9L2500.6 1849.9L2489.8 1851.4L2479 1852.8L2468.2 1854.3L2457.4 1855.8L2446.6 1857.2L2435.8 1858.7L2425 1860.1L2414.3 1861.6L2403.5 1863L2392.7 1864.5L2381.9 1865.9L2371.1 1867.4L2360.3 1868.8L2349.5 1870.3L2338.7 1871.7L2327.9 1873.1L2317.1 1874.5L2306.3 1875.9L2295.5 1877.3L2284.7 1878.7L2273.9 1880L2263.1 1881.3L2252.3 1882.5L2241.6 1883.6L2230.8 1884.7L2220 1885.6L2209.2 1886.4L2198.4 1887L2187.6 1887.5L2176.8 1887.9L2166 1888L2155.2 1887.9L2144.4 1887.7L2133.6 1887.3L2122.8 1886.7L2112 1885.9L2101.2 1885.1L2090.4 1884.1L2079.6 1883.1L2068.9 1881.9L2058.1 1880.8L2047.3 1879.6L2036.5 1878.3L2025.7 1877.1L2014.9 1875.9L2004.1 1874.8L1993.3 1873.6L1982.5 1872.5L1971.7 1871.5L1960.9 1870.4L1950.1 1869.4L1939.3 1868.4L1928.5 1867.4L1917.7 1866.5L1906.9 1865.5L1896.2 1864.6L1885.4 1863.7L1874.6 1862.8L1863.8 1861.8L1853 1860.9L1842.2 1860L1831.4 1859.1L1820.6 1858.2Z" fill="url(#hg8)" filter="url(#hb12)" style="mix-blend-mode:plus-lighter"/>
<path d="M1820.9 1590.4L1831.7 1601.4L1842.5 1612.5L1853.3 1623.6L1864 1634.7L1874.8 1645.4L1885.6 1655.8L1896.4 1666L1907.2 1675.9L1918 1685.2L1928.8 1693.9L1939.5 1702.3L1950.3 1710.5L1961.1 1718.8L1971.9 1727.3L1982.7 1736.2L1993.5 1745.3L2004.3 1754.6L2015 1764.1L2025.8 1773.8L2036.6 1783.5L2047.4 1793.2L2058.2 1802.8L2069 1812.2L2079.8 1821.2L2090.5 1829.7L2101.3 1837.2L2112.1 1843.8L2122.9 1849.3L2133.7 1853.7L2144.5 1856.6L2155.3 1857.8L2166 1857.4L2176.8 1855.8L2187.6 1853.1L2198.4 1849.1L2209.2 1843.1L2220 1835.1L2230.8 1824.8L2241.5 1812.5L2252.3 1799.2L2263.1 1786L2273.9 1773.8L2284.7 1763.1L2295.5 1753.7L2306.3 1745L2317 1736.8L2327.8 1728.6L2338.6 1720L2349.4 1710.8L2360.2 1701L2371 1690.9L2381.8 1680.6L2392.5 1670.3L2403.3 1660.4L2414.1 1650.7L2424.9 1641.4L2435.7 1632.3L2446.5 1623.4L2457.3 1614.5L2468 1605.6L2478.8 1596.7L2489.6 1587.8L2500.4 1578.9L2500.4 1632.9L2489.6 1641.8L2478.8 1650.7L2468 1659.6L2457.3 1668.5L2446.5 1677.4L2435.7 1686.3L2424.9 1695.4L2414.1 1704.7L2403.3 1714.4L2392.5 1724.2L2381.8 1734.1L2371 1744L2360.2 1753.6L2349.4 1762.7L2338.6 1771.3L2327.8 1779.3L2317 1786.7L2306.3 1794.2L2295.5 1801.9L2284.7 1810.4L2273.9 1819.9L2263.1 1830.8L2252.3 1842.3L2241.5 1853.7L2230.8 1864.1L2220 1872.5L2209.2 1878.4L2198.4 1882.3L2187.6 1885.5L2176.8 1888.2L2166 1889.8L2155.3 1890.2L2144.5 1889.4L2133.7 1887.7L2122.9 1884.8L2112.1 1880.8L2101.3 1875.5L2090.5 1869.2L2079.8 1862.1L2069 1854.3L2058.2 1845.8L2047.4 1837L2036.6 1827.9L2025.8 1818.7L2015 1809.6L2004.3 1800.6L1993.5 1792L1982.7 1783.7L1971.9 1775.5L1961.1 1767.3L1950.3 1759.1L1939.5 1750.9L1928.8 1742.5L1918 1733.8L1907.2 1724.5L1896.4 1714.4L1885.6 1703.5L1874.8 1692.1L1864 1680.6L1853.3 1669.5L1842.5 1658.4L1831.7 1647.3L1820.9 1636.3Z" fill="url(#hg9)" filter="url(#hb12)" style="mix-blend-mode:plus-lighter"/>
<path d="M1820.9 1623.3L1831.7 1634.4L1842.5 1645.5L1853.3 1656.6L1864 1667.7L1874.8 1678.8L1885.6 1689.7L1896.4 1700.2L1907.2 1710.2L1918 1719.5L1928.8 1728.2L1939.5 1736.6L1950.3 1744.8L1961.1 1753.1L1971.9 1761.4L1982.7 1769.9L1993.5 1778.7L2004.3 1787.6L2015 1796.9L2025.8 1806.3L2036.6 1815.7L2047.4 1825.1L2058.2 1834.3L2069 1843.2L2079.8 1851.7L2090.5 1859.4L2101.3 1866.4L2112.1 1872.3L2122.9 1877.1L2133.7 1880.7L2144.5 1883L2155.3 1884L2166 1883.6L2176.8 1882L2187.6 1879.3L2198.4 1875.7L2209.2 1870.7L2220 1863.8L2230.8 1854.4L2241.5 1843.1L2252.3 1830.8L2263.1 1818.4L2273.9 1806.9L2284.7 1796.8L2295.5 1787.8L2306.3 1779.6L2317 1771.7L2327.8 1763.9L2338.6 1755.7L2349.4 1746.8L2360.2 1737.3L2371 1727.4L2381.8 1717.4L2392.5 1707.3L2403.3 1697.4L2414.1 1687.7L2424.9 1678.4L2435.7 1669.3L2446.5 1660.4L2457.3 1651.5L2468 1642.6L2478.8 1633.7L2489.6 1624.8L2500.4 1615.9L2500.4 1659.9L2489.6 1668.8L2478.8 1677.7L2468 1686.6L2457.3 1695.5L2446.5 1704.4L2435.7 1713.3L2424.9 1722.4L2414.1 1731.7L2403.3 1741.4L2392.5 1751.3L2381.8 1761.4L2371 1771.4L2360.2 1781.3L2349.4 1790.8L2338.6 1799.7L2327.8 1807.9L2317 1815.7L2306.3 1823.6L2295.5 1831.8L2284.7 1840.8L2273.9 1850.9L2263.1 1862.4L2252.3 1874.8L2241.5 1887.1L2230.8 1898.4L2220 1907.8L2209.2 1914.7L2198.4 1919.7L2187.6 1923.3L2176.8 1926L2166 1927.6L2155.3 1928L2144.5 1927L2133.7 1924.7L2122.9 1921.1L2112.1 1916.3L2101.3 1910.4L2090.5 1903.4L2079.8 1895.7L2069 1887.2L2058.2 1878.3L2047.4 1869.1L2036.6 1859.7L2025.8 1850.3L2015 1840.9L2004.3 1831.6L1993.5 1822.7L1982.7 1813.9L1971.9 1805.4L1961.1 1797.1L1950.3 1788.8L1939.5 1780.6L1928.8 1772.2L1918 1763.5L1907.2 1754.2L1896.4 1744.2L1885.6 1733.7L1874.8 1722.8L1864 1711.7L1853.3 1700.6L1842.5 1689.5L1831.7 1678.4L1820.9 1667.3Z" fill="url(#hg10)" filter="url(#hb16)" style="mix-blend-mode:plus-lighter"/>
<path d="M1820.9 1533.5L1828.6 1538L1836.3 1542.6L1844 1547.1L1851.6 1551.6L1859.3 1556.1L1867 1560.7L1874.7 1565.2L1882.4 1569.7L1890.1 1574.3L1897.7 1578.8L1905.4 1583.4L1913.1 1588L1920.8 1592.7L1928.5 1597.4L1936.2 1602.1L1943.8 1606.9L1951.5 1611.8L1959.2 1616.7L1966.9 1621.7L1974.6 1626.7L1982.3 1631.9L1990 1637.1L1997.6 1642.4L2005.3 1647.9L2013 1653.3L2020.7 1658.9L2028.4 1664.4L2036.1 1669.9L2043.7 1675.4L2051.4 1680.8L2059.1 1686.1L2066.8 1691.3L2074.5 1696.3L2082.2 1701.1L2089.8 1705.7L2097.5 1710.2L2105.2 1714.4L2112.9 1718.4L2120.6 1722.2L2128.3 1725.6L2135.9 1728.4L2143.6 1730.5L2151.3 1731.7L2159 1732L2166.7 1731.4L2174.4 1729.9L2182.1 1727.6L2189.7 1724.6L2197.4 1721.1L2205.1 1717.3L2212.8 1713.2L2220.5 1708.9L2228.2 1704.4L2235.8 1699.7L2243.5 1694.8L2251.2 1689.8L2258.9 1684.6L2266.6 1679.3L2274.3 1674L2281.9 1668.5L2289.6 1663.1L2297.3 1657.5L2305 1652L2305 1668L2297.3 1673.5L2289.6 1679.1L2281.9 1684.5L2274.3 1690L2266.6 1695.3L2258.9 1700.6L2251.2 1705.8L2243.5 1710.8L2235.8 1715.7L2228.2 1720.4L2220.5 1724.9L2212.8 1729.2L2205.1 1733.3L2197.4 1737.1L2189.7 1740.6L2182.1 1743.8L2174.4 1746.7L2166.7 1748.9L2159 1750L2151.3 1749.6L2143.6 1747.9L2135.9 1745.2L2128.3 1741.8L2120.6 1738.2L2112.9 1734.4L2105.2 1730.4L2097.5 1726.2L2089.8 1721.7L2082.2 1717.1L2074.5 1712.3L2066.8 1707.3L2059.1 1702.1L2051.4 1696.8L2043.7 1691.4L2036.1 1685.9L2028.4 1680.4L2020.7 1674.9L2013 1669.3L2005.3 1663.9L1997.6 1658.4L1990 1653.1L1982.3 1647.9L1974.6 1642.7L1966.9 1637.7L1959.2 1632.7L1951.5 1627.8L1943.8 1622.9L1936.2 1618.1L1928.5 1613.4L1920.8 1608.7L1913.1 1604L1905.4 1599.4L1897.7 1594.8L1890.1 1590.3L1882.4 1585.7L1874.7 1581.2L1867 1576.7L1859.3 1572.1L1851.6 1567.6L1844 1563.1L1836.3 1558.6L1828.6 1554L1820.9 1549.5Z" fill="url(#hg11)" filter="url(#hb6)" style="mix-blend-mode:plus-lighter"/>
<path d="M1820.9 1579.3L1823.7 1581L1826.6 1582.6L1829.4 1584.2L1832.3 1585.8L1835.1 1587.4L1838 1589.1L1840.8 1590.7L1843.6 1592.3L1846.5 1593.9L1849.3 1595.6L1852.2 1597.2L1855 1598.8L1857.9 1600.4L1860.7 1602L1863.5 1603.7L1866.4 1605.3L1869.2 1606.9L1872.1 1608.5L1874.9 1610.1L1877.8 1611.8L1880.6 1613.4L1883.4 1615L1886.3 1616.6L1889.1 1618.3L1892 1619.9L1894.8 1621.5L1897.7 1623.2L1900.5 1624.8L1903.3 1626.4L1906.2 1628.1L1909 1629.7L1911.9 1631.4L1914.7 1633L1917.6 1634.7L1920.4 1636.4L1923.2 1638L1926.1 1639.7L1928.9 1641.4L1931.8 1643.1L1934.6 1644.8L1937.5 1646.5L1940.3 1648.2L1943.1 1649.9L1946 1651.6L1948.8 1653.3L1951.7 1655.1L1954.5 1656.8L1957.4 1658.5L1960.2 1660.3L1963 1662L1965.9 1663.8L1968.7 1665.5L1971.6 1667.3L1974.4 1669.1L1977.3 1670.8L1980.1 1672.6L1982.9 1674.4L1985.8 1676.1L1988.6 1677.9L1991.5 1679.7L1994.3 1681.4L1997.2 1683.2L2000 1685L2000 1699L1997.2 1697.2L1994.3 1695.4L1991.5 1693.7L1988.6 1691.9L1985.8 1690.1L1982.9 1688.4L1980.1 1686.6L1977.3 1684.8L1974.4 1683.1L1971.6 1681.3L1968.7 1679.5L1965.9 1677.8L1963 1676L1960.2 1674.3L1957.4 1672.5L1954.5 1670.8L1951.7 1669.1L1948.8 1667.3L1946 1665.6L1943.1 1663.9L1940.3 1662.2L1937.5 1660.5L1934.6 1658.8L1931.8 1657.1L1928.9 1655.4L1926.1 1653.7L1923.2 1652L1920.4 1650.4L1917.6 1648.7L1914.7 1647L1911.9 1645.4L1909 1643.7L1906.2 1642.1L1903.3 1640.4L1900.5 1638.8L1897.7 1637.2L1894.8 1635.5L1892 1633.9L1889.1 1632.3L1886.3 1630.6L1883.4 1629L1880.6 1627.4L1877.8 1625.8L1874.9 1624.1L1872.1 1622.5L1869.2 1620.9L1866.4 1619.3L1863.5 1617.7L1860.7 1616L1857.9 1614.4L1855 1612.8L1852.2 1611.2L1849.3 1609.6L1846.5 1607.9L1843.6 1606.3L1840.8 1604.7L1838 1603.1L1835.1 1601.4L1832.3 1599.8L1829.4 1598.2L1826.6 1596.6L1823.7 1595L1820.9 1593.3Z" fill="url(#hg12)" filter="url(#hb6)" style="mix-blend-mode:plus-lighter"/>
<path d="M2230 1700L2300 1640L2400 1540L2480 1470L2480 1600L2380 1690L2300 1740Z" fill="#fff" fill-opacity="0.050" filter="url(#hb16)" style="mix-blend-mode:plus-lighter"/>
<path d="M1822.6 1297.8L1833.4 1307.1L1844.1 1316.4L1854.9 1325.7L1865.6 1335L1876.3 1344.2L1887.1 1353.5L1897.8 1362.7L1908.6 1371.7L1919.3 1380.8L1930 1390L1940.8 1399.6L1951.5 1409.8L1962.3 1420.8L1973 1432.3L1983.8 1443.7L1994.5 1455L2005.2 1466.2L2016 1477.2L2026.7 1488.2L2037.5 1499.1L2048.2 1510L2059 1520.6L2069.7 1530.9L2080.4 1540.8L2091.2 1550L2101.9 1558.3L2112.7 1565.6L2123.4 1572.4L2134.1 1579.5L2144.9 1586.1L2155.6 1590L2166.4 1589.1L2177.1 1584.2L2187.9 1576.5L2198.6 1567.1L2209.3 1556.5L2220.1 1545.1L2230.8 1533.2L2241.6 1521.2L2252.3 1509L2263 1496.7L2273.8 1484.3L2284.5 1471.8L2295.3 1459.3L2306 1446.7L2316.8 1434.1L2327.5 1421.6L2338.2 1409.3L2349 1397.5L2359.7 1386.2L2370.5 1375.1L2381.2 1364.1L2391.9 1353L2402.7 1341.8L2413.4 1331.2L2424.2 1321.8L2434.9 1313.8L2445.7 1306.6L2456.4 1299.8L2467.1 1293.1L2477.9 1286.3L2488.6 1279.6L2499.4 1272.8L2499.4 1323.2L2488.6 1330L2477.9 1336.7L2467.1 1343.5L2456.4 1350.2L2445.7 1357L2434.9 1364.2L2424.2 1372.2L2413.4 1381.6L2402.7 1392.2L2391.9 1403.4L2381.2 1414.5L2370.5 1425.5L2359.7 1436.6L2349 1447.8L2338.2 1459.1L2327.5 1470.5L2316.8 1482L2306 1493.8L2295.3 1505.8L2284.5 1517.6L2273.8 1529.2L2263 1540.5L2252.3 1551.3L2241.6 1561.8L2230.8 1571.9L2220.1 1581.6L2209.3 1590.5L2198.6 1598.8L2187.9 1606.2L2177.1 1611.8L2166.4 1615L2155.6 1615.2L2144.9 1612L2134.1 1606.8L2123.4 1600.9L2112.7 1595.2L2101.9 1589.1L2091.2 1582.2L2080.4 1574.5L2069.7 1566.2L2059 1557.5L2048.2 1548.5L2037.5 1539.3L2026.7 1529.8L2016 1519.8L2005.2 1509.6L1994.5 1499.1L1983.8 1488.5L1973 1477.9L1962.3 1467.5L1951.5 1457.2L1940.8 1447.2L1930 1437.6L1919.3 1428.4L1908.6 1419.3L1897.8 1410.3L1887.1 1401.1L1876.3 1391.8L1865.6 1382.6L1854.9 1373.3L1844.1 1364L1833.4 1354.7L1822.6 1345.4Z" fill="url(#hg13)" filter="url(#hb10)" style="mix-blend-mode:plus-lighter"/>
<path d="M1822.6 1369.4L1833.4 1378.5L1844.1 1387.6L1854.9 1396.8L1865.6 1405.9L1876.3 1415L1887.1 1424.1L1897.8 1433.4L1908.6 1442.8L1919.3 1452.6L1930 1462.9L1940.8 1473.6L1951.5 1484.8L1962.3 1496.4L1973 1508L1983.8 1519.3L1994.5 1530.1L2005.2 1540.5L2016 1550.5L2026.7 1560L2037.5 1569.3L2048.2 1578.1L2059 1586.5L2069.7 1594.4L2080.4 1601.8L2091.2 1608.5L2101.9 1614.5L2112.7 1619.8L2123.4 1624.2L2134.1 1627.6L2144.9 1630L2155.6 1631.1L2166.4 1630.5L2177.1 1628.4L2187.9 1624.8L2198.6 1620.1L2209.3 1614.3L2220.1 1607.3L2230.8 1599.1L2241.6 1589.7L2252.3 1579.3L2263 1568.4L2273.8 1557.4L2284.5 1546.6L2295.3 1535.8L2306 1524.8L2316.8 1513.2L2327.5 1501.1L2338.2 1488.6L2349 1475.8L2359.7 1463L2370.5 1450L2381.2 1437.3L2391.9 1424.8L2402.7 1412.7L2413.4 1401L2424.2 1389.9L2434.9 1379.4L2445.7 1369.3L2456.4 1359.3L2467.1 1349.3L2477.9 1339.4L2488.6 1329.4L2499.4 1319.4L2499.4 1360.2L2488.6 1370.2L2477.9 1380.2L2467.1 1390.1L2456.4 1400.1L2445.7 1410.1L2434.9 1420.2L2424.2 1430.7L2413.4 1441.8L2402.7 1453.5L2391.9 1465.6L2381.2 1477.9L2370.5 1490.1L2359.7 1502.5L2349 1514.8L2338.2 1527.1L2327.5 1539.2L2316.8 1550.8L2306 1561.9L2295.3 1572.6L2284.5 1582.9L2273.8 1593.2L2263 1603.4L2252.3 1613.4L2241.6 1622.7L2230.8 1631.1L2220.1 1638.3L2209.3 1644.4L2198.6 1649.3L2187.9 1653.4L2177.1 1656.3L2166.4 1657.9L2155.6 1658.3L2144.9 1657.2L2134.1 1654.8L2123.4 1651.5L2112.7 1647.8L2101.9 1643.4L2091.2 1638.3L2080.4 1632.6L2069.7 1626.2L2059 1619L2048.2 1611.1L2037.5 1602.7L2026.7 1593.9L2016 1584.8L2005.2 1575.4L1994.5 1565.6L1983.8 1555L1973 1543.7L1962.3 1532.1L1951.5 1520.5L1940.8 1509.4L1930 1499.1L1919.3 1489.5L1908.6 1480.1L1897.8 1470.8L1887.1 1461.5L1876.3 1452.4L1865.6 1443.3L1854.9 1434.2L1844.1 1425L1833.4 1415.9L1822.6 1406.8Z" fill="url(#hg14)" filter="url(#hb8)" style="mix-blend-mode:plus-lighter"/>
</g></g>
<text x="376.5" y="1531.5" font-size="49" textLength="242.5" lengthAdjust="spacingAndGlyphs" fill="#fff">quasi-BIC</text>
<path d="M498.9 1578V1664" stroke="#fff" stroke-width="2.5" fill="none"/><path d="M488.7 1654.2L498.9 1674.3L509.1 1654.2L498.9 1663.3Z" fill="#fff"/>
<text x="2034.3" y="1472.2" font-size="49" textLength="242.2" lengthAdjust="spacingAndGlyphs">quasi-BIC</text>
<path d="M2155.7 1521V1607" stroke="#000" stroke-width="2.5" fill="none"/><path d="M2145.5 1596.5L2155.7 1616.6L2165.900 1596.500L2155.700 1605.600Z" fill="#000"/>
<use href="#R" x="1140.3" y="2055.7"/>
<use href="#R" x="1149" y="2050.3"/>
<use href="#R" x="1157.7" y="2045.6"/>
<use href="#R" x="1166.4" y="2040.9"/>
<use href="#R" x="1175.1" y="2037.1"/>
<use href="#R" x="1183.8" y="2033.3"/>
<use href="#R" x="1192.5" y="2029.5"/>
<use href="#R" x="1201.2" y="2027.2"/>
<use href="#R" x="1209.9" y="2024.7"/>
<use href="#R" x="1218.6" y="2022.3"/>
<use href="#R" x="1227.3" y="2020.9"/>
<use href="#R" x="1236" y="2020"/>
<use href="#R" x="1244.7" y="2020"/>
<use href="#R" x="1253.4" y="2020"/>
<use href="#R" x="1262.1" y="2021.5"/>
<use href="#R" x="1270.8" y="2023.8"/>
<use href="#R" x="1279.5" y="2027.2"/>
<use href="#R" x="1288.2" y="2032.3"/>
<use href="#R" x="1296.9" y="2038"/>
<use href="#R" x="1305.6" y="2044.6"/>
<use href="#R" x="1314.3" y="2052.6"/>
<use href="#R" x="1366.5" y="2053.4"/>
<use href="#R" x="1375.2" y="2045.4"/>
<use href="#R" x="1383.9" y="2038.8"/>
<use href="#R" x="1392.6" y="2032.3"/>
<use href="#R" x="1401.3" y="2027.2"/>
<use href="#R" x="1410" y="2023.8"/>
<use href="#R" x="1418.7" y="2021.5"/>
<use href="#R" x="1427.4" y="2020"/>
<use href="#R" x="1436.1" y="2020"/>
<use href="#R" x="1444.8" y="2020"/>
<use href="#R" x="1453.5" y="2020.9"/>
<use href="#R" x="1462.2" y="2022.3"/>
<use href="#R" x="1470.9" y="2024.7"/>
<use href="#R" x="1479.6" y="2027.2"/>
<use href="#R" x="1488.3" y="2029.5"/>
<use href="#R" x="1497" y="2033.3"/>
<use href="#R" x="1505.7" y="2037.1"/>
<use href="#R" x="1514.4" y="2040.9"/>
<use href="#R" x="1523.1" y="2045.6"/>
<use href="#R" x="1531.8" y="2050.3"/>
<use href="#R" x="1540.5" y="2055.7"/>
<use href="#R" x="1175.1" y="1218"/>
<use href="#R" x="1183.8" y="1257.4"/>
<use href="#R" x="1192.5" y="1296.4"/>
<use href="#R" x="1201.2" y="1333.5"/>
<use href="#R" x="1209.9" y="1370.9"/>
<use href="#R" x="1218.6" y="1405.3"/>
<use href="#R" x="1227.3" y="1438.6"/>
<use href="#R" x="1236" y="1470.3"/>
<use href="#R" x="1244.7" y="1500.9"/>
<use href="#R" x="1253.4" y="1529.5"/>
<use href="#R" x="1262.1" y="1556.3"/>
<use href="#R" x="1270.8" y="1579.2"/>
<use href="#R" x="1279.5" y="1603.4"/>
<use href="#R" x="1288.2" y="1622.4"/>
<use href="#R" x="1296.9" y="1639.3"/>
<use href="#R" x="1305.6" y="1651.5"/>
<use href="#R" x="1314.3" y="1662"/>
<use href="#R" x="1323" y="1670.7"/>
<use href="#R" x="1331.7" y="1676.4"/>
<use href="#R" x="1340.4" y="1678.4"/>
<use href="#R" x="1349.1" y="1676.4"/>
<use href="#R" x="1357.8" y="1670.7"/>
<use href="#R" x="1366.5" y="1662"/>
<use href="#R" x="1375.2" y="1651.5"/>
<use href="#R" x="1383.9" y="1639.3"/>
<use href="#R" x="1392.6" y="1622.4"/>
<use href="#R" x="1401.3" y="1603.4"/>
<use href="#R" x="1410" y="1579.2"/>
<use href="#R" x="1418.7" y="1556.3"/>
<use href="#R" x="1427.4" y="1529.5"/>
<use href="#R" x="1436.1" y="1500.9"/>
<use href="#R" x="1444.8" y="1470.3"/>
<use href="#R" x="1453.5" y="1438.6"/>
<use href="#R" x="1462.2" y="1405.3"/>
<use href="#R" x="1470.9" y="1370.9"/>
<use href="#R" x="1479.6" y="1333.5"/>
<use href="#R" x="1488.3" y="1296.4"/>
<use href="#R" x="1497" y="1257.4"/>
<use href="#R" x="1505.7" y="1218"/>
<use href="#B" x="1044.6" y="1890.2"/>
<use href="#B" x="1053.3" y="1885.4"/>
<use href="#B" x="1062" y="1880.6"/>
<use href="#B" x="1070.7" y="1876"/>
<use href="#B" x="1079.4" y="1871.6"/>
<use href="#B" x="1088.1" y="1867.5"/>
<use href="#B" x="1096.8" y="1862.6"/>
<use href="#B" x="1105.5" y="1857.8"/>
<use href="#B" x="1114.2" y="1853"/>
<use href="#B" x="1122.9" y="1848.2"/>
<use href="#B" x="1131.6" y="1844"/>
<use href="#B" x="1140.3" y="1839.9"/>
<use href="#B" x="1149" y="1835.1"/>
<use href="#B" x="1157.7" y="1830.3"/>
<use href="#B" x="1166.4" y="1825.4"/>
<use href="#B" x="1175.1" y="1820.6"/>
<use href="#B" x="1183.8" y="1815.8"/>
<use href="#B" x="1192.5" y="1810.3"/>
<use href="#B" x="1201.2" y="1805.4"/>
<use href="#B" x="1209.9" y="1801.3"/>
<use href="#B" x="1218.6" y="1797.2"/>
<use href="#B" x="1227.3" y="1791.7"/>
<use href="#B" x="1236" y="1786.8"/>
<use href="#B" x="1244.7" y="1782.7"/>
<use href="#B" x="1253.4" y="1778.6"/>
<use href="#B" x="1262.1" y="1773.7"/>
<use href="#B" x="1270.8" y="1768.2"/>
<use href="#B" x="1279.5" y="1762.7"/>
<use href="#B" x="1288.2" y="1756.5"/>
<use href="#B" x="1296.9" y="1751.7"/>
<use href="#B" x="1305.6" y="1745.5"/>
<use href="#B" x="1314.3" y="1740.7"/>
<use href="#B" x="1323" y="1736"/>
<use href="#B" x="1331.7" y="1733.5"/>
<use href="#B" x="1340.4" y="1733.1"/>
<use href="#B" x="1349.1" y="1733.5"/>
<use href="#B" x="1357.8" y="1736"/>
<use href="#B" x="1366.5" y="1740.7"/>
<use href="#B" x="1375.2" y="1745.5"/>
<use href="#B" x="1383.9" y="1751.7"/>
<use href="#B" x="1392.6" y="1756.5"/>
<use href="#B" x="1401.3" y="1762.7"/>
<use href="#B" x="1410" y="1768.2"/>
<use href="#B" x="1418.7" y="1773.7"/>
<use href="#B" x="1427.4" y="1778.6"/>
<use href="#B" x="1436.1" y="1782.7"/>
<use href="#B" x="1444.8" y="1786.8"/>
<use href="#B" x="1453.5" y="1791.7"/>
<use href="#B" x="1462.2" y="1797.2"/>
<use href="#B" x="1470.9" y="1801.3"/>
<use href="#B" x="1479.6" y="1805.4"/>
<use href="#B" x="1488.3" y="1810.3"/>
<use href="#B" x="1497" y="1815.8"/>
<use href="#B" x="1505.7" y="1820.6"/>
<use href="#B" x="1514.4" y="1825.4"/>
<use href="#B" x="1523.1" y="1829.1"/>
<use href="#B" x="1531.8" y="1833.9"/>
<use href="#B" x="1540.5" y="1838.7"/>
<use href="#B" x="1549.2" y="1842.8"/>
<use href="#B" x="1557.9" y="1847"/>
<use href="#B" x="1566.6" y="1851.8"/>
<use href="#B" x="1575.3" y="1856.6"/>
<use href="#B" x="1584" y="1861.4"/>
<use href="#B" x="1592.7" y="1866.3"/>
<use href="#B" x="1601.4" y="1870.4"/>
<use href="#B" x="1610.1" y="1874.8"/>
<use href="#B" x="1618.8" y="1879.4"/>
<use href="#B" x="1044.6" y="1840.6"/>
<use href="#B" x="1053.3" y="1836"/>
<use href="#B" x="1062" y="1832.7"/>
<use href="#B" x="1070.7" y="1828.2"/>
<use href="#B" x="1079.4" y="1823.4"/>
<use href="#B" x="1088.1" y="1819"/>
<use href="#B" x="1096.8" y="1813.7"/>
<use href="#B" x="1105.5" y="1809.3"/>
<use href="#B" x="1114.2" y="1804.8"/>
<use href="#B" x="1122.9" y="1799.9"/>
<use href="#B" x="1131.6" y="1795.8"/>
<use href="#B" x="1140.3" y="1790.6"/>
<use href="#B" x="1149" y="1786.1"/>
<use href="#B" x="1157.7" y="1782.3"/>
<use href="#B" x="1166.4" y="1778.2"/>
<use href="#B" x="1175.1" y="1773.7"/>
<use href="#B" x="1183.8" y="1769.9"/>
<use href="#B" x="1192.5" y="1766.2"/>
<use href="#B" x="1201.2" y="1763"/>
<use href="#B" x="1209.9" y="1759.3"/>
<use href="#B" x="1218.6" y="1755.8"/>
<use href="#B" x="1227.3" y="1751.7"/>
<use href="#B" x="1236" y="1749.2"/>
<use href="#B" x="1244.7" y="1747.3"/>
<use href="#B" x="1253.4" y="1744.5"/>
<use href="#B" x="1262.1" y="1741.7"/>
<use href="#B" x="1270.8" y="1740.4"/>
<use href="#B" x="1279.5" y="1739"/>
<use href="#B" x="1288.2" y="1737.2"/>
<use href="#B" x="1296.9" y="1736.3"/>
<use href="#B" x="1305.6" y="1735.4"/>
<use href="#B" x="1314.3" y="1734"/>
<use href="#B" x="1323" y="1733.5"/>
<use href="#B" x="1331.7" y="1733.1"/>
<use href="#B" x="1340.4" y="1733.1"/>
<use href="#B" x="1349.1" y="1733.1"/>
<use href="#B" x="1357.8" y="1733.5"/>
<use href="#B" x="1366.5" y="1734"/>
<use href="#B" x="1375.2" y="1735.4"/>
<use href="#B" x="1383.9" y="1736.3"/>
<use href="#B" x="1392.6" y="1737.2"/>
<use href="#B" x="1401.3" y="1739"/>
<use href="#B" x="1410" y="1740.4"/>
<use href="#B" x="1418.7" y="1741.7"/>
<use href="#B" x="1427.4" y="1744.5"/>
<use href="#B" x="1436.1" y="1747.3"/>
<use href="#B" x="1444.8" y="1749.2"/>
<use href="#B" x="1453.5" y="1751.7"/>
<use href="#B" x="1462.2" y="1755.8"/>
<use href="#B" x="1470.9" y="1759.3"/>
<use href="#B" x="1479.6" y="1763"/>
<use href="#B" x="1488.3" y="1766.2"/>
<use href="#B" x="1497" y="1769.9"/>
<use href="#B" x="1505.7" y="1773.7"/>
<use href="#B" x="1514.4" y="1778.2"/>
<use href="#B" x="1523.1" y="1781.3"/>
<use href="#B" x="1531.8" y="1785.1"/>
<use href="#B" x="1540.5" y="1789.6"/>
<use href="#B" x="1549.2" y="1794.8"/>
<use href="#B" x="1557.9" y="1798.9"/>
<use href="#B" x="1566.6" y="1803.8"/>
<use href="#B" x="1575.3" y="1808.3"/>
<use href="#B" x="1584" y="1812.7"/>
<use href="#B" x="1592.7" y="1818"/>
<use href="#B" x="1601.4" y="1822.4"/>
<use href="#B" x="1610.1" y="1827.2"/>
<use href="#B" x="1618.8" y="1831.7"/>
<use href="#B" x="1227.3" y="1203.9"/>
<use href="#B" x="1236" y="1243.7"/>
<use href="#B" x="1244.7" y="1278.4"/>
<use href="#B" x="1253.4" y="1312.8"/>
<use href="#B" x="1262.1" y="1345.3"/>
<use href="#B" x="1270.8" y="1375.9"/>
<use href="#B" x="1279.5" y="1405.3"/>
<use href="#B" x="1288.2" y="1432.1"/>
<use href="#B" x="1296.9" y="1458.1"/>
<use href="#B" x="1305.6" y="1479.1"/>
<use href="#B" x="1314.3" y="1493.2"/>
<use href="#B" x="1323" y="1506.6"/>
<use href="#B" x="1331.7" y="1513.5"/>
<use href="#B" x="1340.4" y="1518.1"/>
<use href="#B" x="1349.1" y="1513.5"/>
<use href="#B" x="1357.8" y="1506.6"/>
<use href="#B" x="1366.5" y="1493.2"/>
<use href="#B" x="1375.2" y="1479.1"/>
<use href="#B" x="1383.9" y="1458.1"/>
<use href="#B" x="1392.6" y="1432.1"/>
<use href="#B" x="1401.3" y="1405.3"/>
<use href="#B" x="1410" y="1375.9"/>
<use href="#B" x="1418.7" y="1345.3"/>
<use href="#B" x="1427.4" y="1312.8"/>
<use href="#B" x="1436.1" y="1278.4"/>
<use href="#B" x="1444.8" y="1243.7"/>
<use href="#B" x="1453.5" y="1203.9"/>
<use href="#R" x="1067.2" y="1629.4"/>
<use href="#B" x="1067.4" y="1681.6"/>
<text x="1085.6" y="1639.9" font-size="42.5" textLength="154" lengthAdjust="spacingAndGlyphs">TE-like</text>
<text x="1085.6" y="1691.9" font-size="42.5" textLength="164.9" lengthAdjust="spacingAndGlyphs">TM-like</text>
<use href="#R" x="2703.7" y="1566.3"/>
<use href="#R" x="2713.7" y="1582.1"/>
<use href="#R" x="2723.7" y="1598.5"/>
<use href="#R" x="2733.7" y="1615.3"/>
<use href="#R" x="2742.8" y="1632.5"/>
<use href="#R" x="2752.8" y="1649.7"/>
<use href="#R" x="2762.3" y="1666.9"/>
<use href="#R" x="2772.7" y="1684.1"/>
<use href="#R" x="2782.2" y="1702.4"/>
<use href="#R" x="2792.5" y="1720.4"/>
<use href="#R" x="2802.5" y="1737.6"/>
<use href="#R" x="2812" y="1754.8"/>
<use href="#R" x="2822.4" y="1772.8"/>
<use href="#R" x="2831.9" y="1790"/>
<use href="#R" x="2842.2" y="1808.3"/>
<use href="#R" x="2852.2" y="1827.4"/>
<use href="#R" x="2862.5" y="1842.7"/>
<use href="#R" x="2871.3" y="1861.8"/>
<use href="#R" x="2881.6" y="1880.9"/>
<use href="#R" x="2891.2" y="1898.1"/>
<use href="#R" x="2900.7" y="1915.3"/>
<use href="#R" x="2911" y="1934.4"/>
<use href="#R" x="2920.6" y="1951.6"/>
<use href="#R" x="2930.1" y="1968.8"/>
<use href="#R" x="2940.1" y="1986"/>
<use href="#R" x="2949.6" y="2003.2"/>
<use href="#R" x="2960" y="2020.4"/>
<use href="#R" x="2969.5" y="2035.7"/>
<use href="#R" x="2981" y="2051"/>
<use href="#R" x="3275.5" y="1582.1"/>
<use href="#R" x="3265.5" y="1598.5"/>
<use href="#R" x="3255.5" y="1615.3"/>
<use href="#R" x="3246.4" y="1632.5"/>
<use href="#R" x="3236.4" y="1649.7"/>
<use href="#R" x="3226.9" y="1666.9"/>
<use href="#R" x="3216.5" y="1684.1"/>
<use href="#R" x="3207" y="1702.4"/>
<use href="#R" x="3196.7" y="1720.4"/>
<use href="#R" x="3186.7" y="1737.6"/>
<use href="#R" x="3177.2" y="1754.8"/>
<use href="#R" x="3166.8" y="1772.8"/>
<use href="#R" x="3157.3" y="1790"/>
<use href="#R" x="3147" y="1808.3"/>
<use href="#R" x="3137" y="1827.4"/>
<use href="#R" x="3126.7" y="1842.7"/>
<use href="#R" x="3117.9" y="1861.8"/>
<use href="#R" x="3107.6" y="1880.9"/>
<use href="#R" x="3098" y="1898.1"/>
<use href="#R" x="3088.5" y="1915.3"/>
<use href="#R" x="3078.2" y="1934.4"/>
<use href="#R" x="3068.6" y="1951.6"/>
<use href="#R" x="3059.1" y="1968.8"/>
<use href="#R" x="3049.1" y="1986"/>
<use href="#R" x="3039.6" y="2003.2"/>
<use href="#R" x="3029.2" y="2020.4"/>
<use href="#R" x="3019.7" y="2035.7"/>
<use href="#R" x="3008.2" y="2051"/>
<use href="#R" x="2792.6" y="1220"/>
<use href="#R" x="3196.6" y="1220"/>
<use href="#R" x="2802.6" y="1249.7"/>
<use href="#R" x="3186.6" y="1249.7"/>
<use href="#R" x="2812.4" y="1279.2"/>
<use href="#R" x="3176.8" y="1279.2"/>
<use href="#R" x="2822.4" y="1308.4"/>
<use href="#R" x="3166.8" y="1308.4"/>
<use href="#R" x="2832.1" y="1337.1"/>
<use href="#R" x="3157.1" y="1337.1"/>
<use href="#R" x="2842.6" y="1365"/>
<use href="#R" x="3146.6" y="1365"/>
<use href="#R" x="2852.4" y="1393.2"/>
<use href="#R" x="3136.8" y="1393.2"/>
<use href="#R" x="2862.4" y="1420.8"/>
<use href="#R" x="3126.8" y="1420.8"/>
<use href="#R" x="2872.1" y="1447.1"/>
<use href="#R" x="3117.1" y="1447.1"/>
<use href="#R" x="2881.6" y="1472.9"/>
<use href="#R" x="3107.6" y="1472.9"/>
<use href="#R" x="2891.8" y="1499.2"/>
<use href="#R" x="3097.4" y="1499.2"/>
<use href="#R" x="2901.3" y="1523.4"/>
<use href="#R" x="3087.9" y="1523.4"/>
<use href="#R" x="2911.1" y="1546.6"/>
<use href="#R" x="3078.1" y="1546.6"/>
<use href="#R" x="2920.8" y="1570.3"/>
<use href="#R" x="3068.4" y="1570.3"/>
<use href="#R" x="2930.3" y="1591.8"/>
<use href="#R" x="3058.9" y="1591.8"/>
<use href="#R" x="2940.8" y="1611.7"/>
<use href="#R" x="3048.4" y="1611.7"/>
<use href="#R" x="2950.4" y="1629.7"/>
<use href="#R" x="3038.8" y="1629.7"/>
<use href="#R" x="2960" y="1646.1"/>
<use href="#R" x="3029.2" y="1646.1"/>
<use href="#R" x="2969.5" y="1659.5"/>
<use href="#R" x="3019.7" y="1659.5"/>
<use href="#R" x="2979.1" y="1669.1"/>
<use href="#R" x="3010.1" y="1669.1"/>
<use href="#R" x="2986.7" y="1674.8"/>
<use href="#R" x="3002.5" y="1674.8"/>
<use href="#R" x="2996.3" y="1676.7"/>
<use href="#B" x="2753.2" y="1212.1"/>
<use href="#B" x="2763.1" y="1239.2"/>
<use href="#B" x="2773" y="1265.5"/>
<use href="#B" x="2782.8" y="1292.6"/>
<use href="#B" x="2792.7" y="1318.2"/>
<use href="#B" x="2802.6" y="1345.8"/>
<use href="#B" x="2812.5" y="1370.8"/>
<use href="#B" x="2822.3" y="1397.1"/>
<use href="#B" x="2832.2" y="1422.1"/>
<use href="#B" x="2842.1" y="1448.4"/>
<use href="#B" x="2852" y="1473.4"/>
<use href="#B" x="2861.8" y="1497.1"/>
<use href="#B" x="2871.7" y="1521.6"/>
<use href="#B" x="2881.6" y="1546.6"/>
<use href="#B" x="2891.5" y="1569"/>
<use href="#B" x="2901.3" y="1590.5"/>
<use href="#B" x="2910.3" y="1613.4"/>
<use href="#B" x="2920.6" y="1632.5"/>
<use href="#B" x="2930.1" y="1651.6"/>
<use href="#B" x="2940.8" y="1670.7"/>
<use href="#B" x="2949.6" y="1686"/>
<use href="#B" x="2960" y="1700.1"/>
<use href="#B" x="2969.5" y="1712.8"/>
<use href="#B" x="2979.1" y="1724.2"/>
<use href="#B" x="2987.5" y="1731.9"/>
<use href="#B" x="2996" y="1738"/>
<use href="#B" x="3005" y="1745.2"/>
<use href="#B" x="3018.4" y="1762.4"/>
<use href="#B" x="3028.7" y="1778.9"/>
<use href="#B" x="3039.1" y="1798"/>
<use href="#B" x="3048.6" y="1818.6"/>
<use href="#B" x="3058.2" y="1840"/>
<use href="#B" x="3068.1" y="1861.1"/>
<use href="#B" x="3077.7" y="1882.8"/>
<use href="#B" x="3087.2" y="1903.9"/>
<use href="#B" x="3097.5" y="1925.7"/>
<use href="#B" x="3107.1" y="1947.8"/>
<use href="#B" x="3116.7" y="1969.6"/>
<use href="#B" x="3127" y="1990.6"/>
<use href="#B" x="3136.9" y="2012.8"/>
<use href="#B" x="3147.2" y="2033.8"/>
<use href="#B" x="3236" y="1212.1"/>
<use href="#B" x="3226.1" y="1239.2"/>
<use href="#B" x="3216.2" y="1265.5"/>
<use href="#B" x="3206.4" y="1292.6"/>
<use href="#B" x="3196.5" y="1318.2"/>
<use href="#B" x="3186.6" y="1345.8"/>
<use href="#B" x="3176.7" y="1370.8"/>
<use href="#B" x="3166.9" y="1397.1"/>
<use href="#B" x="3157" y="1422.1"/>
<use href="#B" x="3147.1" y="1448.4"/>
<use href="#B" x="3137.2" y="1473.4"/>
<use href="#B" x="3127.4" y="1497.1"/>
<use href="#B" x="3117.5" y="1521.6"/>
<use href="#B" x="3107.6" y="1546.6"/>
<use href="#B" x="3097.7" y="1569"/>
<use href="#B" x="3087.9" y="1590.5"/>
<use href="#B" x="3078.9" y="1613.4"/>
<use href="#B" x="3068.6" y="1632.5"/>
<use href="#B" x="3059.1" y="1651.6"/>
<use href="#B" x="3048.4" y="1670.7"/>
<use href="#B" x="3039.6" y="1686"/>
<use href="#B" x="3029.2" y="1700.1"/>
<use href="#B" x="3019.7" y="1712.8"/>
<use href="#B" x="3010.1" y="1724.2"/>
<use href="#B" x="3001.7" y="1731.9"/>
<use href="#B" x="2993.2" y="1738"/>
<use href="#B" x="2984.2" y="1745.2"/>
<use href="#B" x="2970.8" y="1762.4"/>
<use href="#B" x="2960.5" y="1778.9"/>
<use href="#B" x="2950.1" y="1798"/>
<use href="#B" x="2940.6" y="1818.6"/>
<use href="#B" x="2931" y="1840"/>
<use href="#B" x="2921.1" y="1861.1"/>
<use href="#B" x="2911.5" y="1882.8"/>
<use href="#B" x="2902" y="1903.9"/>
<use href="#B" x="2891.7" y="1925.7"/>
<use href="#B" x="2882.1" y="1947.8"/>
<use href="#B" x="2872.5" y="1969.6"/>
<use href="#B" x="2862.2" y="1990.6"/>
<use href="#B" x="2852.3" y="2012.8"/>
<use href="#B" x="2842" y="2033.8"/>
<use href="#B" x="2862.4" y="1215.5"/>
<use href="#B" x="2871.6" y="1243.9"/>
<use href="#B" x="2881.6" y="1270.3"/>
<use href="#B" x="2891.8" y="1297.6"/>
<use href="#B" x="2901.3" y="1324.7"/>
<use href="#B" x="2911.1" y="1350.5"/>
<use href="#B" x="2920.8" y="1376.6"/>
<use href="#B" x="2930.3" y="1400.5"/>
<use href="#B" x="2940.5" y="1425.3"/>
<use href="#B" x="2950" y="1447.9"/>
<use href="#B" x="2959.7" y="1468.2"/>
<use href="#B" x="2969.5" y="1486.6"/>
<use href="#B" x="2978.9" y="1502.4"/>
<use href="#B" x="2987.9" y="1512.9"/>
<use href="#B" x="2997.9" y="1512.9"/>
<use href="#B" x="3009.2" y="1501.6"/>
<use href="#B" x="3018.9" y="1486.6"/>
<use href="#B" x="3028.9" y="1468.2"/>
<use href="#B" x="3038.7" y="1447.9"/>
<use href="#B" x="3047.9" y="1425.3"/>
<use href="#B" x="3057.9" y="1400.5"/>
<use href="#B" x="3067.6" y="1376.6"/>
<use href="#B" x="3077.6" y="1350.5"/>
<use href="#B" x="3087.4" y="1324.7"/>
<use href="#B" x="3097.4" y="1297.6"/>
<use href="#B" x="3107.1" y="1270.3"/>
<use href="#B" x="3116.8" y="1243.9"/>
<use href="#B" x="3126.8" y="1215.5"/>
<use href="#R" x="2907.6" y="1213"/>
<use href="#B" x="2907.6" y="1263.9"/>
<text x="2926.4" y="1221.9" font-size="42.5" textLength="154.3" lengthAdjust="spacingAndGlyphs">TE-like</text>
<text x="2926.4" y="1273.5" font-size="42.5" textLength="164.6" lengthAdjust="spacingAndGlyphs">TM-like</text>
<rect x="208.5" y="1179.7" width="590.4" height="885.3" fill="none" stroke="#000" stroke-width="3.3"/>
<path d="M208.5 1179.7h-14.5M208.5 1474.8h-14.5M208.5 1769.9h-14.5M208.5 2065h-14.5M208.5 2065v15.5M282.3 2065v9.5M356.1 2065v15.5M429.9 2065v9.5M503.7 2065v15.5M577.5 2065v9.5M651.3 2065v15.5M725.1 2065v9.5M798.9 2065v15.5" stroke="#000" stroke-width="2.800" fill="none"/>
<text x="90" y="1194" font-size="47.5" textLength="85" lengthAdjust="spacingAndGlyphs">700</text>
<text x="90" y="1489.1" font-size="47.5" textLength="85" lengthAdjust="spacingAndGlyphs">650</text>
<text x="90" y="1784.2" font-size="47.5" textLength="85" lengthAdjust="spacingAndGlyphs">600</text>
<text x="90" y="2079.3" font-size="47.5" textLength="85" lengthAdjust="spacingAndGlyphs">550</text>
<text x="179.2" y="2133.5" font-size="47.5" textLength="56" lengthAdjust="spacingAndGlyphs">20</text>
<text x="329" y="2133.5" font-size="47.5" textLength="55" lengthAdjust="spacingAndGlyphs">10</text>
<text x="488.5" y="2133.5" font-size="47.5" textLength="30" lengthAdjust="spacingAndGlyphs">0</text>
<text x="604" y="2133.5" font-size="47.5" textLength="98" lengthAdjust="spacingAndGlyphs">−10</text>
<text x="751.5" y="2133.5" font-size="47.5" textLength="98.5" lengthAdjust="spacingAndGlyphs">−20</text>
<text x="388.8" y="2204.7" font-size="49" textLength="226.7" lengthAdjust="spacingAndGlyphs">Angle/(°)</text>
<text transform="translate(50 1817) rotate(-90)" font-size="49" textLength="380.600" lengthAdjust="spacingAndGlyphs">Wavelength/nm</text>
<text x="10.2" y="1154" font-size="49" textLength="71.1" lengthAdjust="spacingAndGlyphs">(b)</text>
<text x="252.4" y="1153.7" font-size="49" textLength="38.4" lengthAdjust="spacingAndGlyphs" font-style="italic">X</text>
<text x="670" y="1153.7" font-size="49" textLength="38.5" lengthAdjust="spacingAndGlyphs">−</text>
<text x="718" y="1153.7" font-size="49" textLength="38.5" lengthAdjust="spacingAndGlyphs" font-style="italic">X</text>
<text x="490" y="1153.7" font-size="49" textLength="29.5" lengthAdjust="spacingAndGlyphs" font-style="italic">Γ</text>
<path d="M348.5 1139.6H452" stroke="#000" stroke-width="3.600" stroke-linecap="round" fill="none"/>
<path d="M328.9 1139.6L362.5 1126.3L354 1139.6L362.5 1152.9Z" fill="#000"/>
<path d="M532 1139.6H634.5" stroke="#000" stroke-width="3.600" stroke-linecap="round" fill="none"/>
<path d="M654.2 1139.6L620.5 1126.3L629 1139.6L620.5 1152.9Z" fill="#000"/>
<rect x="1036.8" y="1179.7" width="590.4" height="885.3" fill="none" stroke="#000" stroke-width="3.3"/>
<path d="M1036.8 1179.7h-14.5M1036.8 1474.8h-14.5M1036.8 1769.9h-14.5M1036.8 2065h-14.5M1036.8 2065v15.5M1110.6 2065v9.5M1184.4 2065v15.5M1258.2 2065v9.5M1332 2065v15.5M1405.8 2065v9.5M1479.6 2065v15.5M1553.4 2065v9.5M1627.2 2065v15.5" stroke="#000" stroke-width="2.800" fill="none"/>
<text x="918.3" y="1194" font-size="47.5" textLength="85" lengthAdjust="spacingAndGlyphs">700</text>
<text x="918.3" y="1489.1" font-size="47.5" textLength="85" lengthAdjust="spacingAndGlyphs">650</text>
<text x="918.3" y="1784.2" font-size="47.5" textLength="85" lengthAdjust="spacingAndGlyphs">600</text>
<text x="918.3" y="2079.3" font-size="47.5" textLength="85" lengthAdjust="spacingAndGlyphs">550</text>
<text x="1007.5" y="2133.5" font-size="47.5" textLength="56" lengthAdjust="spacingAndGlyphs">20</text>
<text x="1157.3" y="2133.5" font-size="47.5" textLength="55" lengthAdjust="spacingAndGlyphs">10</text>
<text x="1316.8" y="2133.5" font-size="47.5" textLength="30" lengthAdjust="spacingAndGlyphs">0</text>
<text x="1432.3" y="2133.5" font-size="47.5" textLength="98" lengthAdjust="spacingAndGlyphs">−10</text>
<text x="1579.8" y="2133.5" font-size="47.5" textLength="98.5" lengthAdjust="spacingAndGlyphs">−20</text>
<text x="1217.1" y="2204.7" font-size="49" textLength="226.7" lengthAdjust="spacingAndGlyphs">Angle/(°)</text>
<text transform="translate(878.3 1817) rotate(-90)" font-size="49" textLength="380.600" lengthAdjust="spacingAndGlyphs">Wavelength/nm</text>
<text x="838.5" y="1154" font-size="49" textLength="71.1" lengthAdjust="spacingAndGlyphs">(c)</text>
<text x="1080.7" y="1153.7" font-size="49" textLength="38.4" lengthAdjust="spacingAndGlyphs" font-style="italic">X</text>
<text x="1498.3" y="1153.7" font-size="49" textLength="38.5" lengthAdjust="spacingAndGlyphs">−</text>
<text x="1546.3" y="1153.7" font-size="49" textLength="38.5" lengthAdjust="spacingAndGlyphs" font-style="italic">X</text>
<text x="1318.3" y="1153.7" font-size="49" textLength="29.5" lengthAdjust="spacingAndGlyphs" font-style="italic">Γ</text>
<path d="M1176.8 1139.6H1280.3" stroke="#000" stroke-width="3.600" stroke-linecap="round" fill="none"/>
<path d="M1157.2 1139.6L1190.8 1126.3L1182.3 1139.6L1190.8 1152.9Z" fill="#000"/>
<path d="M1360.3 1139.6H1462.8" stroke="#000" stroke-width="3.600" stroke-linecap="round" fill="none"/>
<path d="M1482.5 1139.6L1448.8 1126.3L1457.3 1139.6L1448.8 1152.9Z" fill="#000"/>
<rect x="1865.6" y="1179.7" width="590.4" height="885.3" fill="none" stroke="#000" stroke-width="3.3"/>
<path d="M1865.6 1179.7h-14.5M1865.6 1474.8h-14.5M1865.6 1769.9h-14.5M1865.6 2065h-14.5M1865.6 2065v15.5M1939.4 2065v9.5M2013.2 2065v15.5M2087 2065v9.5M2160.8 2065v15.5M2234.6 2065v9.5M2308.4 2065v15.5M2382.2 2065v9.5M2456 2065v15.5" stroke="#000" stroke-width="2.800" fill="none"/>
<text x="1747.1" y="1194" font-size="47.5" textLength="85" lengthAdjust="spacingAndGlyphs">700</text>
<text x="1747.1" y="1489.1" font-size="47.5" textLength="85" lengthAdjust="spacingAndGlyphs">650</text>
<text x="1747.1" y="1784.2" font-size="47.5" textLength="85" lengthAdjust="spacingAndGlyphs">600</text>
<text x="1747.1" y="2079.3" font-size="47.5" textLength="85" lengthAdjust="spacingAndGlyphs">550</text>
<text x="1836.3" y="2133.5" font-size="47.5" textLength="56" lengthAdjust="spacingAndGlyphs">20</text>
<text x="1986.1" y="2133.5" font-size="47.5" textLength="55" lengthAdjust="spacingAndGlyphs">10</text>
<text x="2145.6" y="2133.5" font-size="47.5" textLength="30" lengthAdjust="spacingAndGlyphs">0</text>
<text x="2261.1" y="2133.5" font-size="47.5" textLength="98" lengthAdjust="spacingAndGlyphs">−10</text>
<text x="2408.6" y="2133.5" font-size="47.5" textLength="98.5" lengthAdjust="spacingAndGlyphs">−20</text>
<text x="2045.9" y="2204.7" font-size="49" textLength="226.7" lengthAdjust="spacingAndGlyphs">Angle/(°)</text>
<text transform="translate(1707.1 1817) rotate(-90)" font-size="49" textLength="380.600" lengthAdjust="spacingAndGlyphs">Wavelength/nm</text>
<text x="1667.3" y="1154" font-size="49" textLength="71.1" lengthAdjust="spacingAndGlyphs">(d)</text>
<text x="1912.1" y="1153.7" font-size="49" textLength="40" lengthAdjust="spacingAndGlyphs" font-style="italic">M</text>
<text x="2320.1" y="1153.7" font-size="49" textLength="38.5" lengthAdjust="spacingAndGlyphs">−</text>
<text x="2369.6" y="1153.7" font-size="49" textLength="43.2" lengthAdjust="spacingAndGlyphs" font-style="italic">M</text>
<text x="2147.1" y="1153.7" font-size="49" textLength="29.5" lengthAdjust="spacingAndGlyphs" font-style="italic">Γ</text>
<path d="M2005.6 1139.6H2109.1" stroke="#000" stroke-width="3.600" stroke-linecap="round" fill="none"/>
<path d="M1986 1139.6L2019.6 1126.3L2011.1 1139.6L2019.6 1152.9Z" fill="#000"/>
<path d="M2189.1 1139.6H2291.6" stroke="#000" stroke-width="3.600" stroke-linecap="round" fill="none"/>
<path d="M2311.3 1139.6L2277.6 1126.3L2286.1 1139.6L2277.6 1152.9Z" fill="#000"/>
<rect x="2693.8" y="1179.7" width="590.4" height="885.3" fill="none" stroke="#000" stroke-width="3.3"/>
<path d="M2693.8 1179.7h-14.5M2693.8 1474.8h-14.5M2693.8 1769.9h-14.5M2693.8 2065h-14.5M2693.8 2065v15.5M2767.6 2065v9.5M2841.4 2065v15.5M2915.2 2065v9.5M2989 2065v15.5M3062.8 2065v9.5M3136.6 2065v15.5M3210.4 2065v9.5M3284.2 2065v15.5" stroke="#000" stroke-width="2.800" fill="none"/>
<text x="2575.3" y="1194" font-size="47.5" textLength="85" lengthAdjust="spacingAndGlyphs">700</text>
<text x="2575.3" y="1489.1" font-size="47.5" textLength="85" lengthAdjust="spacingAndGlyphs">650</text>
<text x="2575.3" y="1784.2" font-size="47.5" textLength="85" lengthAdjust="spacingAndGlyphs">600</text>
<text x="2575.3" y="2079.3" font-size="47.5" textLength="85" lengthAdjust="spacingAndGlyphs">550</text>
<text x="2664.5" y="2133.5" font-size="47.5" textLength="56" lengthAdjust="spacingAndGlyphs">20</text>
<text x="2814.3" y="2133.5" font-size="47.5" textLength="55" lengthAdjust="spacingAndGlyphs">10</text>
<text x="2973.8" y="2133.5" font-size="47.5" textLength="30" lengthAdjust="spacingAndGlyphs">0</text>
<text x="3089.3" y="2133.5" font-size="47.5" textLength="98" lengthAdjust="spacingAndGlyphs">−10</text>
<text x="3236.8" y="2133.5" font-size="47.5" textLength="98.5" lengthAdjust="spacingAndGlyphs">−20</text>
<text x="2874.1" y="2204.7" font-size="49" textLength="226.7" lengthAdjust="spacingAndGlyphs">Angle/(°)</text>
<text transform="translate(2535.3 1817) rotate(-90)" font-size="49" textLength="380.600" lengthAdjust="spacingAndGlyphs">Wavelength/nm</text>
<text x="2495.5" y="1154" font-size="49" textLength="71.1" lengthAdjust="spacingAndGlyphs">(e)</text>
<text x="2740.3" y="1153.7" font-size="49" textLength="40" lengthAdjust="spacingAndGlyphs" font-style="italic">M</text>
<text x="3148.3" y="1153.7" font-size="49" textLength="38.5" lengthAdjust="spacingAndGlyphs">−</text>
<text x="3197.8" y="1153.7" font-size="49" textLength="43.2" lengthAdjust="spacingAndGlyphs" font-style="italic">M</text>
<text x="2975.3" y="1153.7" font-size="49" textLength="29.5" lengthAdjust="spacingAndGlyphs" font-style="italic">Γ</text>
<path d="M2833.8 1139.6H2937.3" stroke="#000" stroke-width="3.600" stroke-linecap="round" fill="none"/>
<path d="M2814.2 1139.6L2847.8 1126.3L2839.3 1139.6L2847.8 1152.9Z" fill="#000"/>
<path d="M3017.3 1139.6H3119.8" stroke="#000" stroke-width="3.600" stroke-linecap="round" fill="none"/>
<path d="M3139.5 1139.6L3105.8 1126.3L3114.3 1139.6L3105.8 1152.9Z" fill="#000"/>
<rect x="302.3" y="2245" width="393.300" height="39.600" fill="url(#jetbar)" stroke="#15153a" stroke-width="1.6"/>
<text x="185" y="2278.4" font-size="49" textLength="96.5" lengthAdjust="spacingAndGlyphs">Min</text>
<text x="714.5" y="2278.4" font-size="49" textLength="107.5" lengthAdjust="spacingAndGlyphs">Max</text>
<rect x="1959.4" y="2245" width="393.300" height="39.600" fill="url(#jetbar)" stroke="#15153a" stroke-width="1.6"/>
<text x="1842.1" y="2278.4" font-size="49" textLength="96.5" lengthAdjust="spacingAndGlyphs">Min</text>
<text x="2371.6" y="2278.4" font-size="49" textLength="107.5" lengthAdjust="spacingAndGlyphs">Max</text>
</svg></body></html>
